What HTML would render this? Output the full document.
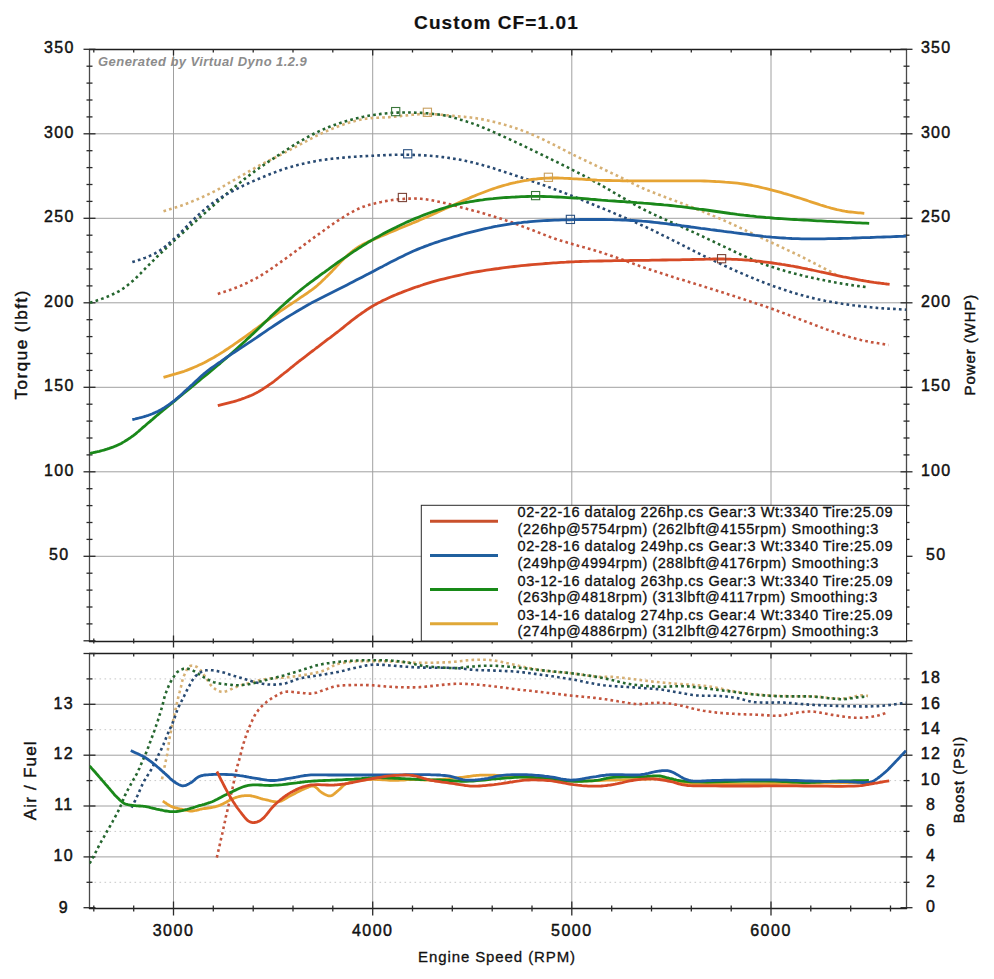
<!DOCTYPE html>
<html><head><meta charset="utf-8"><style>html,body{margin:0;padding:0;background:#fff;}svg{display:block;}</style></head>
<body><svg width="994" height="979" viewBox="0 0 994 979" font-family='"Liberation Sans", sans-serif'><line x1="173.5" y1="49.5" x2="173.5" y2="641.5" stroke="#a0a0a0" stroke-width="1"/>
<line x1="173.5" y1="653.5" x2="173.5" y2="908.5" stroke="#a0a0a0" stroke-width="1"/>
<line x1="372.7" y1="49.5" x2="372.7" y2="641.5" stroke="#a0a0a0" stroke-width="1"/>
<line x1="372.7" y1="653.5" x2="372.7" y2="908.5" stroke="#a0a0a0" stroke-width="1"/>
<line x1="571.8" y1="49.5" x2="571.8" y2="641.5" stroke="#a0a0a0" stroke-width="1"/>
<line x1="571.8" y1="653.5" x2="571.8" y2="908.5" stroke="#a0a0a0" stroke-width="1"/>
<line x1="771.0" y1="49.5" x2="771.0" y2="641.5" stroke="#a0a0a0" stroke-width="1"/>
<line x1="771.0" y1="653.5" x2="771.0" y2="908.5" stroke="#a0a0a0" stroke-width="1"/>
<line x1="89.5" y1="556.3" x2="906.5" y2="556.3" stroke="#a0a0a0" stroke-width="1"/>
<line x1="89.5" y1="471.8" x2="906.5" y2="471.8" stroke="#a0a0a0" stroke-width="1"/>
<line x1="89.5" y1="387.3" x2="906.5" y2="387.3" stroke="#a0a0a0" stroke-width="1"/>
<line x1="89.5" y1="302.8" x2="906.5" y2="302.8" stroke="#a0a0a0" stroke-width="1"/>
<line x1="89.5" y1="218.3" x2="906.5" y2="218.3" stroke="#a0a0a0" stroke-width="1"/>
<line x1="89.5" y1="133.8" x2="906.5" y2="133.8" stroke="#a0a0a0" stroke-width="1"/>
<line x1="94.5" y1="882.3" x2="906.5" y2="882.3" stroke="#c8c8c8" stroke-width="1" stroke-dasharray="1.6 3.4"/>
<line x1="89.5" y1="856.9" x2="906.5" y2="856.9" stroke="#a0a0a0" stroke-width="1"/>
<line x1="94.5" y1="831.4" x2="906.5" y2="831.4" stroke="#c8c8c8" stroke-width="1" stroke-dasharray="1.6 3.4"/>
<line x1="89.5" y1="806.0" x2="906.5" y2="806.0" stroke="#a0a0a0" stroke-width="1"/>
<line x1="94.5" y1="780.6" x2="906.5" y2="780.6" stroke="#c8c8c8" stroke-width="1" stroke-dasharray="1.6 3.4"/>
<line x1="89.5" y1="755.2" x2="906.5" y2="755.2" stroke="#a0a0a0" stroke-width="1"/>
<line x1="94.5" y1="729.7" x2="906.5" y2="729.7" stroke="#c8c8c8" stroke-width="1" stroke-dasharray="1.6 3.4"/>
<line x1="89.5" y1="704.3" x2="906.5" y2="704.3" stroke="#a0a0a0" stroke-width="1"/>
<line x1="94.5" y1="678.9" x2="906.5" y2="678.9" stroke="#c8c8c8" stroke-width="1" stroke-dasharray="1.6 3.4"/>
<line x1="89.5" y1="48.9" x2="89.5" y2="642.1" stroke="#4a4a4a" stroke-width="1.3"/>
<line x1="906.5" y1="48.9" x2="906.5" y2="642.1" stroke="#4a4a4a" stroke-width="1.3"/>
<line x1="88.9" y1="49.5" x2="907.1" y2="49.5" stroke="#1e1e1e" stroke-width="1.3"/>
<line x1="88.9" y1="641.5" x2="907.1" y2="641.5" stroke="#1e1e1e" stroke-width="1.3"/>
<line x1="89.5" y1="652.9" x2="89.5" y2="909.1" stroke="#4a4a4a" stroke-width="1.3"/>
<line x1="906.5" y1="652.9" x2="906.5" y2="909.1" stroke="#4a4a4a" stroke-width="1.3"/>
<line x1="88.9" y1="653.5" x2="907.1" y2="653.5" stroke="#1e1e1e" stroke-width="1.3"/>
<line x1="88.9" y1="908.5" x2="907.1" y2="908.5" stroke="#1e1e1e" stroke-width="1.3"/>
<line x1="83.5" y1="640.8" x2="95.5" y2="640.8" stroke="#2a2a2a" stroke-width="1.3"/>
<line x1="900.5" y1="640.8" x2="912.5" y2="640.8" stroke="#2a2a2a" stroke-width="1.3"/>
<line x1="86.5" y1="623.9" x2="92.5" y2="623.9" stroke="#2a2a2a" stroke-width="1.3"/>
<line x1="903.5" y1="623.9" x2="909.5" y2="623.9" stroke="#2a2a2a" stroke-width="1.3"/>
<line x1="86.5" y1="607.0" x2="92.5" y2="607.0" stroke="#2a2a2a" stroke-width="1.3"/>
<line x1="903.5" y1="607.0" x2="909.5" y2="607.0" stroke="#2a2a2a" stroke-width="1.3"/>
<line x1="86.5" y1="590.1" x2="92.5" y2="590.1" stroke="#2a2a2a" stroke-width="1.3"/>
<line x1="903.5" y1="590.1" x2="909.5" y2="590.1" stroke="#2a2a2a" stroke-width="1.3"/>
<line x1="86.5" y1="573.2" x2="92.5" y2="573.2" stroke="#2a2a2a" stroke-width="1.3"/>
<line x1="903.5" y1="573.2" x2="909.5" y2="573.2" stroke="#2a2a2a" stroke-width="1.3"/>
<line x1="83.5" y1="556.3" x2="95.5" y2="556.3" stroke="#2a2a2a" stroke-width="1.3"/>
<line x1="900.5" y1="556.3" x2="912.5" y2="556.3" stroke="#2a2a2a" stroke-width="1.3"/>
<line x1="86.5" y1="539.4" x2="92.5" y2="539.4" stroke="#2a2a2a" stroke-width="1.3"/>
<line x1="903.5" y1="539.4" x2="909.5" y2="539.4" stroke="#2a2a2a" stroke-width="1.3"/>
<line x1="86.5" y1="522.5" x2="92.5" y2="522.5" stroke="#2a2a2a" stroke-width="1.3"/>
<line x1="903.5" y1="522.5" x2="909.5" y2="522.5" stroke="#2a2a2a" stroke-width="1.3"/>
<line x1="86.5" y1="505.6" x2="92.5" y2="505.6" stroke="#2a2a2a" stroke-width="1.3"/>
<line x1="903.5" y1="505.6" x2="909.5" y2="505.6" stroke="#2a2a2a" stroke-width="1.3"/>
<line x1="86.5" y1="488.7" x2="92.5" y2="488.7" stroke="#2a2a2a" stroke-width="1.3"/>
<line x1="903.5" y1="488.7" x2="909.5" y2="488.7" stroke="#2a2a2a" stroke-width="1.3"/>
<line x1="83.5" y1="471.8" x2="95.5" y2="471.8" stroke="#2a2a2a" stroke-width="1.3"/>
<line x1="900.5" y1="471.8" x2="912.5" y2="471.8" stroke="#2a2a2a" stroke-width="1.3"/>
<line x1="86.5" y1="454.9" x2="92.5" y2="454.9" stroke="#2a2a2a" stroke-width="1.3"/>
<line x1="903.5" y1="454.9" x2="909.5" y2="454.9" stroke="#2a2a2a" stroke-width="1.3"/>
<line x1="86.5" y1="438.0" x2="92.5" y2="438.0" stroke="#2a2a2a" stroke-width="1.3"/>
<line x1="903.5" y1="438.0" x2="909.5" y2="438.0" stroke="#2a2a2a" stroke-width="1.3"/>
<line x1="86.5" y1="421.1" x2="92.5" y2="421.1" stroke="#2a2a2a" stroke-width="1.3"/>
<line x1="903.5" y1="421.1" x2="909.5" y2="421.1" stroke="#2a2a2a" stroke-width="1.3"/>
<line x1="86.5" y1="404.2" x2="92.5" y2="404.2" stroke="#2a2a2a" stroke-width="1.3"/>
<line x1="903.5" y1="404.2" x2="909.5" y2="404.2" stroke="#2a2a2a" stroke-width="1.3"/>
<line x1="83.5" y1="387.3" x2="95.5" y2="387.3" stroke="#2a2a2a" stroke-width="1.3"/>
<line x1="900.5" y1="387.3" x2="912.5" y2="387.3" stroke="#2a2a2a" stroke-width="1.3"/>
<line x1="86.5" y1="370.4" x2="92.5" y2="370.4" stroke="#2a2a2a" stroke-width="1.3"/>
<line x1="903.5" y1="370.4" x2="909.5" y2="370.4" stroke="#2a2a2a" stroke-width="1.3"/>
<line x1="86.5" y1="353.5" x2="92.5" y2="353.5" stroke="#2a2a2a" stroke-width="1.3"/>
<line x1="903.5" y1="353.5" x2="909.5" y2="353.5" stroke="#2a2a2a" stroke-width="1.3"/>
<line x1="86.5" y1="336.6" x2="92.5" y2="336.6" stroke="#2a2a2a" stroke-width="1.3"/>
<line x1="903.5" y1="336.6" x2="909.5" y2="336.6" stroke="#2a2a2a" stroke-width="1.3"/>
<line x1="86.5" y1="319.7" x2="92.5" y2="319.7" stroke="#2a2a2a" stroke-width="1.3"/>
<line x1="903.5" y1="319.7" x2="909.5" y2="319.7" stroke="#2a2a2a" stroke-width="1.3"/>
<line x1="83.5" y1="302.8" x2="95.5" y2="302.8" stroke="#2a2a2a" stroke-width="1.3"/>
<line x1="900.5" y1="302.8" x2="912.5" y2="302.8" stroke="#2a2a2a" stroke-width="1.3"/>
<line x1="86.5" y1="285.9" x2="92.5" y2="285.9" stroke="#2a2a2a" stroke-width="1.3"/>
<line x1="903.5" y1="285.9" x2="909.5" y2="285.9" stroke="#2a2a2a" stroke-width="1.3"/>
<line x1="86.5" y1="269.0" x2="92.5" y2="269.0" stroke="#2a2a2a" stroke-width="1.3"/>
<line x1="903.5" y1="269.0" x2="909.5" y2="269.0" stroke="#2a2a2a" stroke-width="1.3"/>
<line x1="86.5" y1="252.1" x2="92.5" y2="252.1" stroke="#2a2a2a" stroke-width="1.3"/>
<line x1="903.5" y1="252.1" x2="909.5" y2="252.1" stroke="#2a2a2a" stroke-width="1.3"/>
<line x1="86.5" y1="235.2" x2="92.5" y2="235.2" stroke="#2a2a2a" stroke-width="1.3"/>
<line x1="903.5" y1="235.2" x2="909.5" y2="235.2" stroke="#2a2a2a" stroke-width="1.3"/>
<line x1="83.5" y1="218.3" x2="95.5" y2="218.3" stroke="#2a2a2a" stroke-width="1.3"/>
<line x1="900.5" y1="218.3" x2="912.5" y2="218.3" stroke="#2a2a2a" stroke-width="1.3"/>
<line x1="86.5" y1="201.4" x2="92.5" y2="201.4" stroke="#2a2a2a" stroke-width="1.3"/>
<line x1="903.5" y1="201.4" x2="909.5" y2="201.4" stroke="#2a2a2a" stroke-width="1.3"/>
<line x1="86.5" y1="184.5" x2="92.5" y2="184.5" stroke="#2a2a2a" stroke-width="1.3"/>
<line x1="903.5" y1="184.5" x2="909.5" y2="184.5" stroke="#2a2a2a" stroke-width="1.3"/>
<line x1="86.5" y1="167.6" x2="92.5" y2="167.6" stroke="#2a2a2a" stroke-width="1.3"/>
<line x1="903.5" y1="167.6" x2="909.5" y2="167.6" stroke="#2a2a2a" stroke-width="1.3"/>
<line x1="86.5" y1="150.7" x2="92.5" y2="150.7" stroke="#2a2a2a" stroke-width="1.3"/>
<line x1="903.5" y1="150.7" x2="909.5" y2="150.7" stroke="#2a2a2a" stroke-width="1.3"/>
<line x1="83.5" y1="133.8" x2="95.5" y2="133.8" stroke="#2a2a2a" stroke-width="1.3"/>
<line x1="900.5" y1="133.8" x2="912.5" y2="133.8" stroke="#2a2a2a" stroke-width="1.3"/>
<line x1="86.5" y1="116.9" x2="92.5" y2="116.9" stroke="#2a2a2a" stroke-width="1.3"/>
<line x1="903.5" y1="116.9" x2="909.5" y2="116.9" stroke="#2a2a2a" stroke-width="1.3"/>
<line x1="86.5" y1="100.0" x2="92.5" y2="100.0" stroke="#2a2a2a" stroke-width="1.3"/>
<line x1="903.5" y1="100.0" x2="909.5" y2="100.0" stroke="#2a2a2a" stroke-width="1.3"/>
<line x1="86.5" y1="83.1" x2="92.5" y2="83.1" stroke="#2a2a2a" stroke-width="1.3"/>
<line x1="903.5" y1="83.1" x2="909.5" y2="83.1" stroke="#2a2a2a" stroke-width="1.3"/>
<line x1="86.5" y1="66.2" x2="92.5" y2="66.2" stroke="#2a2a2a" stroke-width="1.3"/>
<line x1="903.5" y1="66.2" x2="909.5" y2="66.2" stroke="#2a2a2a" stroke-width="1.3"/>
<line x1="83.5" y1="49.3" x2="95.5" y2="49.3" stroke="#2a2a2a" stroke-width="1.3"/>
<line x1="900.5" y1="49.3" x2="912.5" y2="49.3" stroke="#2a2a2a" stroke-width="1.3"/>
<line x1="93.8" y1="49.5" x2="93.8" y2="52.5" stroke="#2a2a2a" stroke-width="1.3"/>
<line x1="93.8" y1="638.5" x2="93.8" y2="643.5" stroke="#2a2a2a" stroke-width="1.3"/>
<line x1="93.8" y1="653.5" x2="93.8" y2="656.5" stroke="#2a2a2a" stroke-width="1.3"/>
<line x1="93.8" y1="905.5" x2="93.8" y2="911.5" stroke="#2a2a2a" stroke-width="1.3"/>
<line x1="133.7" y1="49.5" x2="133.7" y2="52.5" stroke="#2a2a2a" stroke-width="1.3"/>
<line x1="133.7" y1="638.5" x2="133.7" y2="643.5" stroke="#2a2a2a" stroke-width="1.3"/>
<line x1="133.7" y1="653.5" x2="133.7" y2="656.5" stroke="#2a2a2a" stroke-width="1.3"/>
<line x1="133.7" y1="905.5" x2="133.7" y2="911.5" stroke="#2a2a2a" stroke-width="1.3"/>
<line x1="173.5" y1="49.5" x2="173.5" y2="55.5" stroke="#2a2a2a" stroke-width="1.3"/>
<line x1="173.5" y1="635.5" x2="173.5" y2="647.5" stroke="#2a2a2a" stroke-width="1.3"/>
<line x1="173.5" y1="653.5" x2="173.5" y2="658.5" stroke="#2a2a2a" stroke-width="1.3"/>
<line x1="173.5" y1="901.5" x2="173.5" y2="915.5" stroke="#2a2a2a" stroke-width="1.3"/>
<line x1="213.3" y1="49.5" x2="213.3" y2="52.5" stroke="#2a2a2a" stroke-width="1.3"/>
<line x1="213.3" y1="638.5" x2="213.3" y2="643.5" stroke="#2a2a2a" stroke-width="1.3"/>
<line x1="213.3" y1="653.5" x2="213.3" y2="656.5" stroke="#2a2a2a" stroke-width="1.3"/>
<line x1="213.3" y1="905.5" x2="213.3" y2="911.5" stroke="#2a2a2a" stroke-width="1.3"/>
<line x1="253.2" y1="49.5" x2="253.2" y2="52.5" stroke="#2a2a2a" stroke-width="1.3"/>
<line x1="253.2" y1="638.5" x2="253.2" y2="643.5" stroke="#2a2a2a" stroke-width="1.3"/>
<line x1="253.2" y1="653.5" x2="253.2" y2="656.5" stroke="#2a2a2a" stroke-width="1.3"/>
<line x1="253.2" y1="905.5" x2="253.2" y2="911.5" stroke="#2a2a2a" stroke-width="1.3"/>
<line x1="293.0" y1="49.5" x2="293.0" y2="52.5" stroke="#2a2a2a" stroke-width="1.3"/>
<line x1="293.0" y1="638.5" x2="293.0" y2="643.5" stroke="#2a2a2a" stroke-width="1.3"/>
<line x1="293.0" y1="653.5" x2="293.0" y2="656.5" stroke="#2a2a2a" stroke-width="1.3"/>
<line x1="293.0" y1="905.5" x2="293.0" y2="911.5" stroke="#2a2a2a" stroke-width="1.3"/>
<line x1="332.8" y1="49.5" x2="332.8" y2="52.5" stroke="#2a2a2a" stroke-width="1.3"/>
<line x1="332.8" y1="638.5" x2="332.8" y2="643.5" stroke="#2a2a2a" stroke-width="1.3"/>
<line x1="332.8" y1="653.5" x2="332.8" y2="656.5" stroke="#2a2a2a" stroke-width="1.3"/>
<line x1="332.8" y1="905.5" x2="332.8" y2="911.5" stroke="#2a2a2a" stroke-width="1.3"/>
<line x1="372.7" y1="49.5" x2="372.7" y2="55.5" stroke="#2a2a2a" stroke-width="1.3"/>
<line x1="372.7" y1="635.5" x2="372.7" y2="647.5" stroke="#2a2a2a" stroke-width="1.3"/>
<line x1="372.7" y1="653.5" x2="372.7" y2="658.5" stroke="#2a2a2a" stroke-width="1.3"/>
<line x1="372.7" y1="901.5" x2="372.7" y2="915.5" stroke="#2a2a2a" stroke-width="1.3"/>
<line x1="412.5" y1="49.5" x2="412.5" y2="52.5" stroke="#2a2a2a" stroke-width="1.3"/>
<line x1="412.5" y1="638.5" x2="412.5" y2="643.5" stroke="#2a2a2a" stroke-width="1.3"/>
<line x1="412.5" y1="653.5" x2="412.5" y2="656.5" stroke="#2a2a2a" stroke-width="1.3"/>
<line x1="412.5" y1="905.5" x2="412.5" y2="911.5" stroke="#2a2a2a" stroke-width="1.3"/>
<line x1="452.3" y1="49.5" x2="452.3" y2="52.5" stroke="#2a2a2a" stroke-width="1.3"/>
<line x1="452.3" y1="638.5" x2="452.3" y2="643.5" stroke="#2a2a2a" stroke-width="1.3"/>
<line x1="452.3" y1="653.5" x2="452.3" y2="656.5" stroke="#2a2a2a" stroke-width="1.3"/>
<line x1="452.3" y1="905.5" x2="452.3" y2="911.5" stroke="#2a2a2a" stroke-width="1.3"/>
<line x1="492.2" y1="49.5" x2="492.2" y2="52.5" stroke="#2a2a2a" stroke-width="1.3"/>
<line x1="492.2" y1="638.5" x2="492.2" y2="643.5" stroke="#2a2a2a" stroke-width="1.3"/>
<line x1="492.2" y1="653.5" x2="492.2" y2="656.5" stroke="#2a2a2a" stroke-width="1.3"/>
<line x1="492.2" y1="905.5" x2="492.2" y2="911.5" stroke="#2a2a2a" stroke-width="1.3"/>
<line x1="532.0" y1="49.5" x2="532.0" y2="52.5" stroke="#2a2a2a" stroke-width="1.3"/>
<line x1="532.0" y1="638.5" x2="532.0" y2="643.5" stroke="#2a2a2a" stroke-width="1.3"/>
<line x1="532.0" y1="653.5" x2="532.0" y2="656.5" stroke="#2a2a2a" stroke-width="1.3"/>
<line x1="532.0" y1="905.5" x2="532.0" y2="911.5" stroke="#2a2a2a" stroke-width="1.3"/>
<line x1="571.8" y1="49.5" x2="571.8" y2="55.5" stroke="#2a2a2a" stroke-width="1.3"/>
<line x1="571.8" y1="635.5" x2="571.8" y2="647.5" stroke="#2a2a2a" stroke-width="1.3"/>
<line x1="571.8" y1="653.5" x2="571.8" y2="658.5" stroke="#2a2a2a" stroke-width="1.3"/>
<line x1="571.8" y1="901.5" x2="571.8" y2="915.5" stroke="#2a2a2a" stroke-width="1.3"/>
<line x1="611.7" y1="49.5" x2="611.7" y2="52.5" stroke="#2a2a2a" stroke-width="1.3"/>
<line x1="611.7" y1="638.5" x2="611.7" y2="643.5" stroke="#2a2a2a" stroke-width="1.3"/>
<line x1="611.7" y1="653.5" x2="611.7" y2="656.5" stroke="#2a2a2a" stroke-width="1.3"/>
<line x1="611.7" y1="905.5" x2="611.7" y2="911.5" stroke="#2a2a2a" stroke-width="1.3"/>
<line x1="651.5" y1="49.5" x2="651.5" y2="52.5" stroke="#2a2a2a" stroke-width="1.3"/>
<line x1="651.5" y1="638.5" x2="651.5" y2="643.5" stroke="#2a2a2a" stroke-width="1.3"/>
<line x1="651.5" y1="653.5" x2="651.5" y2="656.5" stroke="#2a2a2a" stroke-width="1.3"/>
<line x1="651.5" y1="905.5" x2="651.5" y2="911.5" stroke="#2a2a2a" stroke-width="1.3"/>
<line x1="691.3" y1="49.5" x2="691.3" y2="52.5" stroke="#2a2a2a" stroke-width="1.3"/>
<line x1="691.3" y1="638.5" x2="691.3" y2="643.5" stroke="#2a2a2a" stroke-width="1.3"/>
<line x1="691.3" y1="653.5" x2="691.3" y2="656.5" stroke="#2a2a2a" stroke-width="1.3"/>
<line x1="691.3" y1="905.5" x2="691.3" y2="911.5" stroke="#2a2a2a" stroke-width="1.3"/>
<line x1="731.2" y1="49.5" x2="731.2" y2="52.5" stroke="#2a2a2a" stroke-width="1.3"/>
<line x1="731.2" y1="638.5" x2="731.2" y2="643.5" stroke="#2a2a2a" stroke-width="1.3"/>
<line x1="731.2" y1="653.5" x2="731.2" y2="656.5" stroke="#2a2a2a" stroke-width="1.3"/>
<line x1="731.2" y1="905.5" x2="731.2" y2="911.5" stroke="#2a2a2a" stroke-width="1.3"/>
<line x1="771.0" y1="49.5" x2="771.0" y2="55.5" stroke="#2a2a2a" stroke-width="1.3"/>
<line x1="771.0" y1="635.5" x2="771.0" y2="647.5" stroke="#2a2a2a" stroke-width="1.3"/>
<line x1="771.0" y1="653.5" x2="771.0" y2="658.5" stroke="#2a2a2a" stroke-width="1.3"/>
<line x1="771.0" y1="901.5" x2="771.0" y2="915.5" stroke="#2a2a2a" stroke-width="1.3"/>
<line x1="810.8" y1="49.5" x2="810.8" y2="52.5" stroke="#2a2a2a" stroke-width="1.3"/>
<line x1="810.8" y1="638.5" x2="810.8" y2="643.5" stroke="#2a2a2a" stroke-width="1.3"/>
<line x1="810.8" y1="653.5" x2="810.8" y2="656.5" stroke="#2a2a2a" stroke-width="1.3"/>
<line x1="810.8" y1="905.5" x2="810.8" y2="911.5" stroke="#2a2a2a" stroke-width="1.3"/>
<line x1="850.7" y1="49.5" x2="850.7" y2="52.5" stroke="#2a2a2a" stroke-width="1.3"/>
<line x1="850.7" y1="638.5" x2="850.7" y2="643.5" stroke="#2a2a2a" stroke-width="1.3"/>
<line x1="850.7" y1="653.5" x2="850.7" y2="656.5" stroke="#2a2a2a" stroke-width="1.3"/>
<line x1="850.7" y1="905.5" x2="850.7" y2="911.5" stroke="#2a2a2a" stroke-width="1.3"/>
<line x1="890.5" y1="49.5" x2="890.5" y2="52.5" stroke="#2a2a2a" stroke-width="1.3"/>
<line x1="890.5" y1="638.5" x2="890.5" y2="643.5" stroke="#2a2a2a" stroke-width="1.3"/>
<line x1="890.5" y1="653.5" x2="890.5" y2="656.5" stroke="#2a2a2a" stroke-width="1.3"/>
<line x1="890.5" y1="905.5" x2="890.5" y2="911.5" stroke="#2a2a2a" stroke-width="1.3"/>
<line x1="83.5" y1="907.7" x2="95.5" y2="907.7" stroke="#2a2a2a" stroke-width="1.3"/>
<line x1="900.5" y1="907.7" x2="912.5" y2="907.7" stroke="#2a2a2a" stroke-width="1.3"/>
<line x1="86.5" y1="882.3" x2="92.5" y2="882.3" stroke="#2a2a2a" stroke-width="1.3"/>
<line x1="903.5" y1="882.3" x2="909.5" y2="882.3" stroke="#2a2a2a" stroke-width="1.3"/>
<line x1="83.5" y1="856.9" x2="95.5" y2="856.9" stroke="#2a2a2a" stroke-width="1.3"/>
<line x1="900.5" y1="856.9" x2="912.5" y2="856.9" stroke="#2a2a2a" stroke-width="1.3"/>
<line x1="86.5" y1="831.4" x2="92.5" y2="831.4" stroke="#2a2a2a" stroke-width="1.3"/>
<line x1="903.5" y1="831.4" x2="909.5" y2="831.4" stroke="#2a2a2a" stroke-width="1.3"/>
<line x1="83.5" y1="806.0" x2="95.5" y2="806.0" stroke="#2a2a2a" stroke-width="1.3"/>
<line x1="900.5" y1="806.0" x2="912.5" y2="806.0" stroke="#2a2a2a" stroke-width="1.3"/>
<line x1="86.5" y1="780.6" x2="92.5" y2="780.6" stroke="#2a2a2a" stroke-width="1.3"/>
<line x1="903.5" y1="780.6" x2="909.5" y2="780.6" stroke="#2a2a2a" stroke-width="1.3"/>
<line x1="83.5" y1="755.2" x2="95.5" y2="755.2" stroke="#2a2a2a" stroke-width="1.3"/>
<line x1="900.5" y1="755.2" x2="912.5" y2="755.2" stroke="#2a2a2a" stroke-width="1.3"/>
<line x1="86.5" y1="729.7" x2="92.5" y2="729.7" stroke="#2a2a2a" stroke-width="1.3"/>
<line x1="903.5" y1="729.7" x2="909.5" y2="729.7" stroke="#2a2a2a" stroke-width="1.3"/>
<line x1="83.5" y1="704.3" x2="95.5" y2="704.3" stroke="#2a2a2a" stroke-width="1.3"/>
<line x1="900.5" y1="704.3" x2="912.5" y2="704.3" stroke="#2a2a2a" stroke-width="1.3"/>
<line x1="86.5" y1="678.9" x2="92.5" y2="678.9" stroke="#2a2a2a" stroke-width="1.3"/>
<line x1="903.5" y1="678.9" x2="909.5" y2="678.9" stroke="#2a2a2a" stroke-width="1.3"/>
<line x1="83.5" y1="653.5" x2="95.5" y2="653.5" stroke="#2a2a2a" stroke-width="1.3"/>
<line x1="900.5" y1="653.5" x2="912.5" y2="653.5" stroke="#2a2a2a" stroke-width="1.3"/>
<text x="496.5" y="29.2" font-size="19" text-anchor="middle" font-weight="bold" letter-spacing="1.1" fill="#111111" stroke="#111111" stroke-width="0.2" >Custom CF=1.01</text>
<text x="59.3" y="560.2" font-size="16" text-anchor="middle" font-weight="normal" letter-spacing="1.3" fill="#111111" stroke="#111111" stroke-width="0.45" >50</text>
<text x="936.2" y="560.2" font-size="16" text-anchor="middle" font-weight="normal" letter-spacing="1.3" fill="#111111" stroke="#111111" stroke-width="0.45" >50</text>
<text x="59.3" y="475.7" font-size="16" text-anchor="middle" font-weight="normal" letter-spacing="1.3" fill="#111111" stroke="#111111" stroke-width="0.45" >100</text>
<text x="936.2" y="475.7" font-size="16" text-anchor="middle" font-weight="normal" letter-spacing="1.3" fill="#111111" stroke="#111111" stroke-width="0.45" >100</text>
<text x="59.3" y="391.2" font-size="16" text-anchor="middle" font-weight="normal" letter-spacing="1.3" fill="#111111" stroke="#111111" stroke-width="0.45" >150</text>
<text x="936.2" y="391.2" font-size="16" text-anchor="middle" font-weight="normal" letter-spacing="1.3" fill="#111111" stroke="#111111" stroke-width="0.45" >150</text>
<text x="59.3" y="306.7" font-size="16" text-anchor="middle" font-weight="normal" letter-spacing="1.3" fill="#111111" stroke="#111111" stroke-width="0.45" >200</text>
<text x="936.2" y="306.7" font-size="16" text-anchor="middle" font-weight="normal" letter-spacing="1.3" fill="#111111" stroke="#111111" stroke-width="0.45" >200</text>
<text x="59.3" y="222.2" font-size="16" text-anchor="middle" font-weight="normal" letter-spacing="1.3" fill="#111111" stroke="#111111" stroke-width="0.45" >250</text>
<text x="936.2" y="222.2" font-size="16" text-anchor="middle" font-weight="normal" letter-spacing="1.3" fill="#111111" stroke="#111111" stroke-width="0.45" >250</text>
<text x="59.3" y="137.7" font-size="16" text-anchor="middle" font-weight="normal" letter-spacing="1.3" fill="#111111" stroke="#111111" stroke-width="0.45" >300</text>
<text x="936.2" y="137.7" font-size="16" text-anchor="middle" font-weight="normal" letter-spacing="1.3" fill="#111111" stroke="#111111" stroke-width="0.45" >300</text>
<text x="59.3" y="53.2" font-size="16" text-anchor="middle" font-weight="normal" letter-spacing="1.3" fill="#111111" stroke="#111111" stroke-width="0.45" >350</text>
<text x="936.2" y="53.2" font-size="16" text-anchor="middle" font-weight="normal" letter-spacing="1.3" fill="#111111" stroke="#111111" stroke-width="0.45" >350</text>
<text x="63.8" y="912.7" font-size="16" text-anchor="middle" font-weight="normal" letter-spacing="1.3" fill="#111111" stroke="#111111" stroke-width="0.45" >9</text>
<text x="63.8" y="861.1" font-size="16" text-anchor="middle" font-weight="normal" letter-spacing="1.3" fill="#111111" stroke="#111111" stroke-width="0.45" >10</text>
<text x="63.8" y="810.2" font-size="16" text-anchor="middle" font-weight="normal" letter-spacing="1.3" fill="#111111" stroke="#111111" stroke-width="0.45" >11</text>
<text x="63.8" y="759.4" font-size="16" text-anchor="middle" font-weight="normal" letter-spacing="1.3" fill="#111111" stroke="#111111" stroke-width="0.45" >12</text>
<text x="63.8" y="708.5" font-size="16" text-anchor="middle" font-weight="normal" letter-spacing="1.3" fill="#111111" stroke="#111111" stroke-width="0.45" >13</text>
<text x="931.0" y="911.9" font-size="16" text-anchor="middle" font-weight="normal" letter-spacing="1.3" fill="#111111" stroke="#111111" stroke-width="0.45" >0</text>
<text x="931.0" y="886.5" font-size="16" text-anchor="middle" font-weight="normal" letter-spacing="1.3" fill="#111111" stroke="#111111" stroke-width="0.45" >2</text>
<text x="931.0" y="861.1" font-size="16" text-anchor="middle" font-weight="normal" letter-spacing="1.3" fill="#111111" stroke="#111111" stroke-width="0.45" >4</text>
<text x="931.0" y="835.6" font-size="16" text-anchor="middle" font-weight="normal" letter-spacing="1.3" fill="#111111" stroke="#111111" stroke-width="0.45" >6</text>
<text x="931.0" y="810.2" font-size="16" text-anchor="middle" font-weight="normal" letter-spacing="1.3" fill="#111111" stroke="#111111" stroke-width="0.45" >8</text>
<text x="931.0" y="784.8" font-size="16" text-anchor="middle" font-weight="normal" letter-spacing="1.3" fill="#111111" stroke="#111111" stroke-width="0.45" >10</text>
<text x="931.0" y="759.4" font-size="16" text-anchor="middle" font-weight="normal" letter-spacing="1.3" fill="#111111" stroke="#111111" stroke-width="0.45" >12</text>
<text x="931.0" y="733.9" font-size="16" text-anchor="middle" font-weight="normal" letter-spacing="1.3" fill="#111111" stroke="#111111" stroke-width="0.45" >14</text>
<text x="931.0" y="708.5" font-size="16" text-anchor="middle" font-weight="normal" letter-spacing="1.3" fill="#111111" stroke="#111111" stroke-width="0.45" >16</text>
<text x="931.0" y="683.1" font-size="16" text-anchor="middle" font-weight="normal" letter-spacing="1.3" fill="#111111" stroke="#111111" stroke-width="0.45" >18</text>
<text x="173.5" y="935.5" font-size="16" text-anchor="middle" font-weight="normal" letter-spacing="1.5" fill="#111111" stroke="#111111" stroke-width="0.45" >3000</text>
<text x="372.7" y="935.5" font-size="16" text-anchor="middle" font-weight="normal" letter-spacing="1.5" fill="#111111" stroke="#111111" stroke-width="0.45" >4000</text>
<text x="571.8" y="935.5" font-size="16" text-anchor="middle" font-weight="normal" letter-spacing="1.5" fill="#111111" stroke="#111111" stroke-width="0.45" >5000</text>
<text x="771.0" y="935.5" font-size="16" text-anchor="middle" font-weight="normal" letter-spacing="1.5" fill="#111111" stroke="#111111" stroke-width="0.45" >6000</text>
<text x="497.0" y="962.2" font-size="15" text-anchor="middle" font-weight="normal" letter-spacing="0.9" fill="#111111" stroke="#111111" stroke-width="0.3" >Engine Speed (RPM)</text>
<text x="0.8" y="0.0" font-size="17" text-anchor="middle" font-weight="normal" letter-spacing="1.5" fill="#111111" stroke="#111111" stroke-width="0.45" transform="translate(26.5,345.1) rotate(-90)">Torque (lbft)</text>
<text x="0.5" y="0.0" font-size="15" text-anchor="middle" font-weight="normal" letter-spacing="0.9" fill="#111111" stroke="#111111" stroke-width="0.45" transform="translate(974.7,345.1) rotate(-90)">Power (WHP)</text>
<text x="0.6" y="0.0" font-size="17" text-anchor="middle" font-weight="normal" letter-spacing="1.2" fill="#111111" stroke="#111111" stroke-width="0.45" transform="translate(36.4,780.8) rotate(-90)">Air / Fuel</text>
<text x="0.5" y="0.0" font-size="15" text-anchor="middle" font-weight="normal" letter-spacing="1.0" fill="#111111" stroke="#111111" stroke-width="0.45" transform="translate(964.4,780) rotate(-90)">Boost (PSI)</text>
<text x="98.0" y="66.2" font-size="13" text-anchor="start" font-weight="bold" letter-spacing="0.45" fill="#8c8c8c" font-style="italic">Generated by Virtual Dyno 1.2.9</text>
<g clip-path="url(#clipTop)">
<path d="M163.5,211.3 L165.9,210.5 L168.2,209.8 L170.6,209.0 L172.9,208.3 L175.3,207.6 L177.6,206.8 L180.0,206.0 L182.4,205.2 L184.7,204.4 L187.1,203.5 L189.7,202.5 L192.2,201.4 L194.8,200.4 L197.4,199.3 L200.0,198.2 L202.6,197.0 L205.2,195.8 L207.7,194.6 L210.3,193.4 L212.8,192.1 L215.2,190.9 L217.6,189.6 L220.0,188.3 L222.4,186.9 L224.7,185.5 L227.1,184.1 L229.4,182.7 L231.8,181.4 L234.1,180.0 L236.4,178.7 L238.6,177.4 L240.9,176.1 L243.1,174.8 L245.3,173.5 L247.5,172.2 L249.7,171.0 L251.9,169.7 L254.1,168.5 L256.3,167.2 L258.5,166.0 L260.8,164.8 L263.0,163.7 L265.3,162.5 L267.6,161.4 L269.9,160.2 L272.2,159.1 L274.4,158.0 L276.7,156.8 L278.9,155.7 L281.1,154.6 L283.2,153.5 L285.2,152.4 L287.2,151.3 L289.3,150.3 L291.2,149.2 L293.2,148.1 L295.2,147.1 L297.2,146.0 L299.2,144.9 L301.2,143.9 L303.1,142.9 L305.0,141.9 L306.9,140.8 L308.8,139.8 L310.7,138.8 L312.5,137.8 L314.4,136.8 L316.4,135.8 L318.3,134.9 L320.2,134.0 L322.2,133.1 L324.2,132.2 L326.2,131.3 L328.3,130.4 L330.3,129.5 L332.3,128.7 L334.4,127.9 L336.4,127.1 L338.4,126.3 L340.4,125.6 L342.2,124.9 L344.1,124.3 L345.9,123.7 L347.8,123.1 L349.6,122.5 L351.4,122.0 L353.2,121.5 L355.0,121.0 L356.8,120.6 L358.5,120.2 L360.0,119.8 L361.4,119.5 L362.8,119.3 L364.2,119.0 L365.6,118.8 L367.0,118.6 L368.4,118.5 L369.8,118.3 L371.1,118.1 L372.4,118.0 L373.6,117.9 L374.8,117.8 L375.9,117.7 L377.1,117.7 L378.2,117.7 L379.3,117.6 L380.5,117.6 L381.6,117.6 L382.7,117.5 L383.8,117.5 L384.9,117.4 L386.0,117.3 L387.2,117.2 L388.3,117.2 L389.4,117.1 L390.5,117.0 L391.6,116.9 L392.7,116.8 L393.8,116.7 L394.9,116.6 L395.9,116.5 L397.0,116.4 L398.1,116.3 L399.2,116.2 L400.3,116.1 L401.4,115.9 L402.4,115.8 L403.5,115.7 L404.6,115.6 L405.7,115.5 L406.8,115.4 L407.8,115.3 L408.9,115.1 L410.0,115.0 L411.1,114.9 L412.1,114.8 L413.2,114.7 L414.3,114.6 L415.4,114.6 L416.5,114.5 L417.6,114.4 L418.7,114.3 L419.9,114.3 L421.0,114.2 L422.2,114.2 L423.3,114.1 L424.5,114.1 L425.6,114.1 L426.8,114.1 L427.9,114.0 L429.1,114.1 L430.3,114.1 L431.5,114.1 L432.7,114.2 L433.9,114.2 L435.0,114.3 L436.2,114.4 L437.4,114.4 L438.6,114.5 L439.7,114.6 L440.8,114.7 L441.9,114.8 L443.1,114.9 L444.2,115.0 L445.3,115.1 L446.4,115.2 L447.4,115.3 L448.5,115.5 L449.6,115.6 L450.6,115.7 L451.6,115.8 L452.5,115.9 L453.4,115.9 L454.3,116.0 L455.2,116.1 L456.1,116.2 L457.0,116.3 L457.9,116.4 L458.8,116.4 L459.6,116.5 L460.5,116.6 L461.3,116.7 L462.2,116.7 L463.0,116.8 L463.8,116.8 L464.7,116.9 L465.5,117.0 L466.4,117.0 L467.3,117.1 L468.2,117.2 L469.5,117.4 L470.8,117.5 L472.2,117.7 L473.6,117.9 L475.0,118.1 L476.4,118.3 L477.9,118.6 L479.4,118.8 L481.0,119.1 L482.6,119.4 L484.6,119.8 L486.7,120.2 L488.8,120.7 L491.0,121.2 L493.3,121.7 L495.6,122.2 L497.8,122.8 L500.1,123.4 L502.4,124.0 L504.7,124.7 L507.2,125.4 L509.7,126.2 L512.2,127.0 L514.8,127.9 L517.3,128.7 L519.8,129.6 L522.4,130.6 L524.9,131.5 L527.4,132.5 L529.8,133.5 L532.2,134.5 L534.6,135.5 L536.9,136.6 L539.3,137.6 L541.6,138.7 L543.9,139.8 L546.2,141.0 L548.5,142.1 L550.7,143.2 L553.0,144.3 L555.1,145.3 L557.2,146.4 L559.2,147.5 L561.3,148.5 L563.3,149.6 L565.3,150.6 L567.3,151.7 L569.4,152.8 L571.5,153.8 L573.6,154.9 L575.9,156.0 L578.2,157.1 L580.5,158.3 L582.9,159.4 L585.3,160.5 L587.7,161.6 L590.0,162.8 L592.4,163.9 L594.8,165.0 L597.2,166.2 L599.7,167.4 L602.2,168.5 L604.7,169.8 L607.2,171.0 L609.7,172.2 L612.2,173.4 L614.7,174.6 L617.2,175.7 L619.5,176.9 L621.9,178.0 L623.8,179.0 L625.8,180.0 L627.7,180.9 L629.5,181.8 L631.4,182.8 L633.2,183.7 L635.0,184.6 L636.8,185.5 L638.7,186.3 L640.5,187.2 L642.3,188.0 L644.0,188.7 L645.8,189.5 L647.5,190.2 L649.2,190.9 L651.0,191.6 L652.8,192.3 L654.6,193.0 L656.4,193.7 L658.2,194.5 L660.4,195.3 L662.6,196.2 L664.9,197.0 L667.1,197.8 L669.4,198.7 L671.7,199.6 L674.1,200.4 L676.4,201.3 L678.7,202.1 L681.0,203.0 L683.3,203.9 L685.6,204.8 L687.9,205.6 L690.2,206.5 L692.5,207.4 L694.7,208.3 L697.0,209.2 L699.3,210.1 L701.5,211.0 L703.7,211.9 L705.7,212.7 L707.6,213.5 L709.5,214.3 L711.4,215.1 L713.3,215.9 L715.2,216.6 L717.1,217.4 L719.0,218.3 L721.0,219.1 L722.9,219.9 L725.0,220.9 L727.1,221.8 L729.2,222.8 L731.3,223.7 L733.4,224.7 L735.5,225.7 L737.7,226.7 L739.8,227.7 L742.0,228.7 L744.2,229.7 L746.5,230.8 L748.9,232.0 L751.4,233.1 L753.8,234.3 L756.3,235.4 L758.7,236.6 L761.2,237.7 L763.6,238.9 L766.0,240.0 L768.3,241.1 L770.4,242.0 L772.5,243.0 L774.5,244.0 L776.5,244.9 L778.6,245.8 L780.6,246.8 L782.5,247.7 L784.5,248.6 L786.4,249.5 L788.3,250.4 L790.1,251.2 L791.7,252.0 L793.4,252.8 L795.1,253.6 L796.7,254.4 L798.3,255.1 L799.9,255.9 L801.5,256.7 L803.2,257.5 L804.8,258.3 L806.5,259.2 L808.1,260.0 L809.8,260.9 L811.5,261.7 L813.1,262.6 L814.8,263.5 L816.5,264.3 L818.1,265.2 L819.7,266.1 L821.3,266.9 L822.9,267.7 L824.3,268.5 L825.8,269.2 L827.3,270.0 L828.7,270.8 L830.2,271.5 L831.6,272.3 L833.1,273.1 L834.5,273.8 L836.0,274.6" fill="none" stroke="#d6b074" stroke-width="2.6" stroke-dasharray="2.7 3.15"/>
<path d="M90.0,302.8 L91.5,302.3 L93.1,301.8 L94.6,301.3 L96.2,300.8 L97.7,300.2 L99.3,299.7 L100.8,299.2 L102.3,298.6 L103.8,298.1 L105.3,297.5 L106.9,296.9 L108.4,296.2 L109.9,295.6 L111.4,294.9 L112.9,294.2 L114.4,293.5 L115.9,292.8 L117.4,292.0 L118.8,291.3 L120.2,290.4 L121.6,289.6 L123.0,288.7 L124.3,287.7 L125.6,286.7 L126.9,285.7 L128.2,284.7 L129.5,283.7 L130.8,282.6 L132.0,281.6 L133.3,280.5 L134.6,279.4 L135.8,278.2 L137.0,277.0 L138.2,275.8 L139.4,274.6 L140.6,273.4 L141.8,272.1 L142.9,270.9 L144.2,269.7 L145.4,268.4 L146.6,267.2 L147.9,265.9 L149.2,264.6 L150.5,263.3 L151.7,262.1 L153.0,260.8 L154.3,259.5 L155.7,258.1 L157.0,256.8 L158.4,255.5 L160.0,253.9 L161.7,252.4 L163.3,250.8 L165.0,249.2 L166.7,247.6 L168.4,246.0 L170.2,244.4 L172.0,242.8 L173.7,241.1 L175.5,239.4 L177.5,237.6 L179.5,235.8 L181.6,233.9 L183.7,232.0 L185.7,230.1 L187.8,228.2 L189.9,226.3 L192.0,224.4 L194.1,222.5 L196.2,220.7 L198.2,218.9 L200.1,217.1 L202.1,215.4 L204.1,213.7 L206.1,211.9 L208.0,210.2 L210.0,208.5 L211.9,206.8 L213.9,205.1 L215.8,203.4 L217.6,201.8 L219.4,200.2 L221.2,198.6 L223.0,197.0 L224.8,195.5 L226.5,193.9 L228.3,192.3 L230.2,190.8 L232.0,189.2 L233.9,187.6 L236.0,185.9 L238.0,184.2 L240.2,182.5 L242.3,180.8 L244.4,179.1 L246.6,177.4 L248.8,175.7 L251.0,174.0 L253.3,172.4 L255.5,170.7 L257.9,169.0 L260.3,167.3 L262.8,165.6 L265.3,163.9 L267.8,162.2 L270.3,160.5 L272.8,158.9 L275.3,157.3 L277.7,155.7 L280.1,154.1 L282.3,152.7 L284.4,151.3 L286.6,149.9 L288.7,148.5 L290.8,147.2 L292.8,145.8 L294.9,144.5 L297.0,143.2 L299.1,142.0 L301.2,140.8 L303.1,139.7 L305.0,138.6 L306.9,137.5 L308.8,136.5 L310.7,135.5 L312.5,134.5 L314.4,133.5 L316.4,132.6 L318.3,131.6 L320.2,130.7 L322.2,129.8 L324.2,129.0 L326.2,128.1 L328.2,127.3 L330.3,126.5 L332.3,125.8 L334.4,125.0 L336.4,124.3 L338.4,123.6 L340.4,122.9 L342.2,122.3 L344.1,121.7 L345.9,121.2 L347.7,120.7 L349.5,120.2 L351.3,119.7 L353.1,119.2 L354.9,118.7 L356.7,118.3 L358.5,117.9 L360.2,117.5 L361.8,117.1 L363.5,116.8 L365.1,116.4 L366.7,116.1 L368.3,115.8 L370.0,115.5 L371.7,115.2 L373.4,115.0 L375.1,114.7 L377.1,114.4 L379.1,114.2 L381.1,113.9 L383.1,113.7 L385.2,113.5 L387.3,113.3 L389.4,113.1 L391.5,112.9 L393.6,112.8 L395.7,112.7 L397.9,112.6 L400.2,112.5 L402.5,112.5 L404.8,112.5 L407.1,112.5 L409.4,112.5 L411.7,112.6 L413.9,112.6 L416.1,112.7 L418.2,112.8 L419.9,112.8 L421.6,112.9 L423.3,113.0 L424.9,113.2 L426.6,113.3 L428.2,113.4 L429.7,113.6 L431.2,113.7 L432.6,113.9 L434.0,114.0 L435.0,114.1 L435.9,114.2 L436.8,114.3 L437.6,114.4 L438.5,114.5 L439.3,114.6 L440.1,114.7 L440.9,114.9 L441.7,115.0 L442.4,115.1 L443.1,115.2 L443.7,115.3 L444.3,115.4 L444.9,115.5 L445.5,115.6 L446.1,115.7 L446.7,115.9 L447.3,116.0 L447.9,116.1 L448.5,116.2 L449.1,116.4 L449.6,116.5 L450.2,116.6 L450.8,116.8 L451.4,116.9 L452.0,117.1 L452.5,117.2 L453.1,117.4 L453.7,117.6 L454.2,117.7 L454.8,117.9 L455.4,118.1 L455.9,118.2 L456.4,118.4 L457.0,118.6 L457.5,118.7 L458.1,118.9 L458.6,119.1 L459.2,119.3 L459.8,119.5 L460.5,119.7 L461.2,119.9 L461.9,120.1 L462.6,120.3 L463.4,120.5 L464.2,120.7 L464.9,121.0 L465.8,121.2 L466.6,121.5 L467.5,121.8 L468.8,122.2 L470.1,122.6 L471.5,123.1 L472.9,123.6 L474.4,124.2 L475.9,124.7 L477.5,125.3 L479.0,125.9 L480.7,126.5 L482.3,127.2 L484.5,128.1 L486.7,129.0 L489.0,130.0 L491.4,131.0 L493.8,132.1 L496.2,133.2 L498.7,134.3 L501.2,135.5 L503.7,136.6 L506.2,137.8 L509.2,139.1 L512.1,140.5 L515.2,141.9 L518.2,143.4 L521.3,144.8 L524.4,146.3 L527.6,147.8 L530.7,149.3 L533.8,150.8 L536.9,152.3 L540.1,153.9 L543.2,155.4 L546.4,156.9 L549.6,158.5 L552.8,160.1 L556.0,161.6 L559.2,163.2 L562.3,164.8 L565.5,166.3 L568.6,167.9 L571.5,169.4 L574.4,170.9 L577.4,172.4 L580.3,173.9 L583.2,175.4 L586.0,176.9 L588.9,178.5 L591.7,180.0 L594.5,181.5 L597.2,183.0 L599.8,184.4 L602.3,185.9 L604.9,187.3 L607.4,188.8 L609.9,190.2 L612.4,191.7 L614.8,193.1 L617.2,194.5 L619.6,195.8 L621.9,197.2 L623.8,198.3 L625.8,199.4 L627.7,200.6 L629.6,201.6 L631.4,202.7 L633.2,203.8 L635.1,204.8 L636.9,205.9 L638.7,206.9 L640.5,207.8 L642.1,208.7 L643.8,209.5 L645.4,210.3 L647.0,211.1 L648.5,211.9 L650.1,212.6 L651.7,213.4 L653.3,214.1 L654.9,214.9 L656.6,215.7 L658.4,216.5 L660.1,217.3 L661.9,218.1 L663.7,218.9 L665.5,219.7 L667.4,220.5 L669.2,221.3 L671.0,222.1 L672.9,222.9 L674.7,223.7 L676.6,224.6 L678.6,225.4 L680.5,226.3 L682.4,227.2 L684.4,228.1 L686.3,229.0 L688.3,229.9 L690.3,230.8 L692.2,231.7 L694.2,232.6 L696.2,233.5 L698.2,234.4 L700.2,235.4 L702.3,236.3 L704.3,237.3 L706.3,238.2 L708.3,239.2 L710.3,240.1 L712.4,241.1 L714.3,242.0 L716.3,242.9 L718.2,243.8 L720.2,244.8 L722.1,245.7 L724.0,246.6 L725.9,247.5 L727.9,248.4 L729.8,249.3 L731.7,250.2 L733.5,251.1 L735.4,252.0 L737.1,252.8 L738.9,253.6 L740.7,254.5 L742.5,255.3 L744.2,256.1 L746.0,256.9 L747.8,257.7 L749.6,258.5 L751.4,259.2 L753.2,260.0 L755.1,260.8 L756.9,261.5 L758.8,262.2 L760.6,262.9 L762.5,263.7 L764.4,264.3 L766.3,265.0 L768.3,265.7 L770.2,266.4 L772.3,267.1 L774.4,267.7 L776.5,268.4 L778.6,269.1 L780.8,269.7 L783.0,270.3 L785.1,271.0 L787.3,271.6 L789.5,272.2 L791.8,272.8 L794.1,273.4 L796.4,274.0 L798.8,274.6 L801.1,275.2 L803.5,275.8 L805.9,276.4 L808.3,276.9 L810.7,277.5 L813.1,278.0 L815.5,278.5 L818.0,279.1 L820.5,279.6 L823.0,280.1 L825.5,280.6 L828.0,281.1 L830.5,281.6 L833.1,282.1 L835.6,282.5 L838.2,283.0 L840.7,283.4 L843.4,283.9 L846.2,284.3 L848.9,284.7 L851.7,285.1 L854.4,285.5 L857.2,285.9 L860.0,286.2 L862.8,286.6 L865.5,287.0 L868.3,287.4" fill="none" stroke="#25662f" stroke-width="2.6" stroke-dasharray="2.7 3.15"/>
<path d="M132.3,262.1 L133.6,261.7 L134.9,261.3 L136.2,260.9 L137.4,260.5 L138.7,260.1 L140.0,259.7 L141.3,259.3 L142.6,258.8 L143.8,258.3 L145.1,257.9 L146.5,257.3 L147.8,256.8 L149.1,256.2 L150.4,255.6 L151.8,255.0 L153.1,254.4 L154.4,253.8 L155.7,253.0 L157.1,252.3 L158.4,251.4 L160.1,250.4 L161.7,249.2 L163.3,248.0 L165.0,246.7 L166.6,245.3 L168.3,243.9 L170.0,242.5 L171.7,241.0 L173.3,239.5 L175.0,237.9 L177.0,236.2 L178.9,234.3 L180.8,232.3 L182.8,230.3 L184.7,228.3 L186.7,226.3 L188.7,224.2 L190.6,222.2 L192.7,220.3 L194.7,218.4 L196.7,216.6 L198.7,214.7 L200.7,212.9 L202.7,211.1 L204.7,209.4 L206.8,207.6 L208.9,205.9 L211.0,204.3 L213.1,202.7 L215.3,201.1 L217.5,199.6 L219.8,198.2 L222.1,196.8 L224.5,195.4 L226.9,194.1 L229.3,192.8 L231.7,191.5 L234.1,190.3 L236.5,189.0 L238.9,187.8 L241.4,186.6 L243.8,185.4 L246.3,184.3 L248.8,183.1 L251.3,182.0 L253.8,180.9 L256.3,179.8 L258.8,178.8 L261.2,177.7 L263.6,176.8 L265.7,175.9 L267.7,175.1 L269.8,174.2 L271.8,173.5 L273.8,172.7 L275.8,171.9 L277.8,171.2 L279.7,170.5 L281.7,169.8 L283.6,169.2 L285.4,168.6 L287.2,168.0 L288.9,167.5 L290.7,167.0 L292.4,166.5 L294.1,166.0 L295.9,165.6 L297.6,165.1 L299.4,164.7 L301.2,164.2 L303.0,163.8 L304.9,163.4 L306.7,162.9 L308.6,162.5 L310.5,162.1 L312.4,161.8 L314.3,161.4 L316.3,161.0 L318.2,160.7 L320.2,160.3 L322.4,160.0 L324.7,159.7 L326.9,159.4 L329.2,159.1 L331.5,158.8 L333.8,158.6 L336.1,158.3 L338.5,158.1 L340.9,157.8 L343.4,157.6 L346.2,157.4 L349.1,157.1 L352.1,156.9 L355.1,156.7 L358.1,156.5 L361.1,156.3 L364.2,156.2 L367.3,156.0 L370.3,155.8 L373.3,155.7 L376.5,155.6 L379.6,155.4 L382.8,155.3 L386.0,155.1 L389.1,155.0 L392.3,154.9 L395.5,154.8 L398.6,154.7 L401.7,154.7 L404.8,154.7 L407.6,154.7 L410.5,154.8 L413.3,154.9 L416.1,155.0 L418.9,155.1 L421.7,155.2 L424.5,155.4 L427.2,155.6 L429.9,155.8 L432.7,156.0 L435.3,156.2 L437.9,156.5 L440.4,156.8 L443.0,157.1 L445.5,157.4 L448.1,157.8 L450.6,158.2 L453.1,158.6 L455.6,159.0 L458.1,159.4 L460.4,159.8 L462.8,160.3 L465.1,160.8 L467.4,161.3 L469.7,161.8 L471.9,162.3 L474.2,162.9 L476.5,163.5 L478.8,164.1 L481.2,164.7 L483.6,165.4 L486.1,166.1 L488.6,166.8 L491.0,167.6 L493.5,168.3 L496.0,169.1 L498.5,170.0 L501.1,170.8 L503.6,171.6 L506.2,172.5 L509.2,173.4 L512.2,174.4 L515.2,175.4 L518.3,176.4 L521.4,177.4 L524.5,178.5 L527.6,179.5 L530.7,180.6 L533.8,181.7 L536.9,182.8 L540.1,183.9 L543.2,185.1 L546.4,186.2 L549.6,187.4 L552.8,188.6 L556.0,189.8 L559.2,191.0 L562.3,192.2 L565.5,193.4 L568.6,194.6 L571.5,195.7 L574.4,196.9 L577.3,198.0 L580.2,199.2 L583.0,200.3 L585.8,201.5 L588.7,202.7 L591.5,203.8 L594.4,205.0 L597.2,206.2 L600.1,207.4 L603.0,208.5 L605.9,209.7 L608.7,210.9 L611.6,212.1 L614.5,213.4 L617.4,214.6 L620.2,215.8 L623.1,217.0 L625.9,218.2 L628.7,219.4 L631.4,220.6 L634.2,221.8 L636.9,223.1 L639.6,224.3 L642.4,225.5 L645.1,226.7 L647.8,228.0 L650.4,229.2 L653.1,230.4 L655.6,231.7 L658.1,232.9 L660.5,234.1 L662.9,235.3 L665.3,236.5 L667.7,237.7 L670.2,238.9 L672.6,240.2 L675.1,241.4 L677.7,242.7 L680.5,244.2 L683.4,245.6 L686.3,247.1 L689.2,248.6 L692.2,250.1 L695.1,251.6 L698.1,253.1 L701.2,254.6 L704.2,256.1 L707.3,257.6 L710.5,259.2 L713.8,260.7 L717.1,262.3 L720.5,263.9 L723.8,265.4 L727.2,267.0 L730.6,268.5 L733.9,270.0 L737.3,271.5 L740.6,272.9 L743.8,274.3 L746.9,275.6 L750.0,276.9 L753.2,278.2 L756.3,279.5 L759.4,280.8 L762.5,282.0 L765.7,283.2 L768.8,284.4 L772.0,285.6 L775.2,286.7 L778.3,287.8 L781.5,288.9 L784.7,290.0 L787.8,291.0 L791.0,292.1 L794.2,293.0 L797.5,294.0 L800.7,294.9 L804.0,295.8 L807.4,296.7 L810.9,297.6 L814.3,298.4 L817.8,299.2 L821.4,299.9 L824.9,300.7 L828.4,301.3 L832.0,302.0 L835.5,302.6 L839.0,303.2 L842.5,303.8 L846.0,304.3 L849.5,304.8 L853.0,305.3 L856.5,305.7 L860.0,306.1 L863.5,306.5 L867.0,306.9 L870.4,307.2 L873.8,307.6 L877.1,307.9 L880.4,308.1 L883.6,308.4 L886.8,308.6 L890.0,308.8 L893.2,308.9 L896.4,309.1 L899.6,309.3 L902.8,309.5 L906.0,309.7" fill="none" stroke="#284a72" stroke-width="2.6" stroke-dasharray="2.7 3.15"/>
<path d="M217.8,293.9 L219.8,293.2 L221.8,292.5 L223.8,291.9 L225.9,291.2 L227.9,290.6 L229.9,289.9 L231.9,289.2 L233.9,288.5 L235.9,287.7 L237.9,286.9 L240.0,286.1 L242.0,285.2 L244.1,284.2 L246.2,283.3 L248.3,282.3 L250.3,281.3 L252.4,280.2 L254.4,279.2 L256.5,278.1 L258.5,276.9 L260.5,275.7 L262.6,274.5 L264.6,273.2 L266.7,271.8 L268.7,270.5 L270.7,269.1 L272.7,267.7 L274.7,266.3 L276.6,265.0 L278.5,263.6 L280.3,262.4 L282.0,261.1 L283.7,259.9 L285.4,258.7 L287.1,257.5 L288.8,256.2 L290.5,255.0 L292.2,253.7 L293.9,252.5 L295.6,251.2 L297.4,249.9 L299.2,248.5 L301.1,247.2 L302.9,245.8 L304.7,244.4 L306.6,243.1 L308.4,241.7 L310.3,240.3 L312.3,238.9 L314.2,237.4 L316.5,235.8 L318.8,234.1 L321.1,232.4 L323.5,230.7 L325.9,228.9 L328.3,227.2 L330.8,225.5 L333.2,223.8 L335.5,222.2 L337.9,220.6 L340.0,219.3 L342.1,218.0 L344.1,216.7 L346.2,215.4 L348.2,214.1 L350.3,212.9 L352.4,211.8 L354.4,210.7 L356.4,209.6 L358.5,208.7 L360.3,207.9 L362.1,207.2 L363.9,206.6 L365.7,205.9 L367.6,205.4 L369.4,204.8 L371.2,204.3 L373.0,203.9 L374.9,203.4 L376.9,202.9 L379.0,202.4 L381.2,202.0 L383.4,201.5 L385.6,201.1 L387.9,200.7 L390.1,200.3 L392.4,200.0 L394.7,199.7 L397.0,199.4 L399.2,199.2 L401.4,199.0 L403.6,198.9 L405.8,198.7 L408.0,198.6 L410.2,198.6 L412.4,198.5 L414.6,198.5 L416.8,198.6 L418.9,198.7 L421.1,198.8 L423.1,199.0 L425.1,199.2 L427.1,199.5 L429.1,199.8 L431.1,200.2 L433.1,200.6 L435.1,201.0 L437.0,201.4 L439.0,201.8 L441.0,202.2 L442.9,202.7 L444.9,203.1 L446.9,203.6 L448.8,204.1 L450.8,204.6 L452.7,205.1 L454.7,205.6 L456.7,206.1 L458.6,206.7 L460.6,207.2 L462.6,207.7 L464.7,208.2 L466.7,208.8 L468.7,209.3 L470.7,209.8 L472.8,210.4 L474.8,210.9 L476.9,211.5 L479.0,212.1 L481.2,212.7 L483.6,213.4 L486.0,214.1 L488.5,214.9 L491.0,215.6 L493.5,216.4 L496.1,217.2 L498.6,218.0 L501.2,218.8 L503.7,219.6 L506.2,220.5 L508.9,221.4 L511.6,222.3 L514.3,223.3 L517.0,224.3 L519.7,225.3 L522.4,226.4 L525.1,227.4 L527.7,228.4 L530.3,229.4 L532.9,230.3 L535.1,231.2 L537.4,232.0 L539.6,232.9 L541.7,233.8 L543.9,234.6 L546.0,235.5 L548.2,236.3 L550.3,237.1 L552.4,237.8 L554.5,238.6 L556.4,239.2 L558.3,239.8 L560.2,240.4 L562.1,241.0 L564.0,241.6 L565.9,242.1 L567.7,242.7 L569.7,243.2 L571.6,243.8 L573.6,244.4 L575.9,245.0 L578.1,245.7 L580.5,246.3 L582.8,247.0 L585.2,247.6 L587.6,248.3 L590.0,249.0 L592.4,249.7 L594.8,250.4 L597.2,251.2 L599.8,252.0 L602.4,252.8 L605.0,253.7 L607.6,254.5 L610.3,255.4 L612.9,256.3 L615.6,257.2 L618.2,258.2 L620.8,259.1 L623.4,260.0 L625.9,260.9 L628.3,261.8 L630.8,262.7 L633.2,263.6 L635.7,264.5 L638.1,265.4 L640.6,266.3 L643.0,267.2 L645.5,268.1 L648.0,268.9 L650.7,269.8 L653.3,270.7 L656.0,271.6 L658.7,272.4 L661.4,273.3 L664.1,274.2 L666.8,275.0 L669.6,275.9 L672.3,276.8 L675.2,277.7 L678.2,278.7 L681.4,279.6 L684.6,280.6 L687.8,281.6 L691.0,282.6 L694.2,283.6 L697.5,284.6 L700.7,285.6 L704.0,286.6 L707.3,287.7 L710.6,288.7 L713.9,289.7 L717.2,290.8 L720.6,291.9 L724.0,292.9 L727.3,294.0 L730.7,295.1 L734.0,296.1 L737.3,297.2 L740.6,298.3 L743.8,299.3 L746.9,300.4 L750.1,301.4 L753.2,302.4 L756.4,303.5 L759.5,304.5 L762.6,305.6 L765.7,306.6 L768.9,307.7 L772.0,308.8 L775.2,310.0 L778.4,311.2 L781.6,312.4 L784.8,313.6 L788.0,314.8 L791.2,316.0 L794.4,317.3 L797.6,318.5 L800.8,319.7 L804.0,320.9 L807.2,322.1 L810.4,323.3 L813.7,324.6 L816.9,325.8 L820.1,327.0 L823.3,328.2 L826.5,329.4 L829.7,330.5 L832.9,331.6 L836.0,332.7 L838.8,333.6 L841.6,334.5 L844.4,335.3 L847.1,336.2 L849.9,337.0 L852.6,337.7 L855.3,338.5 L858.0,339.2 L860.7,339.9 L863.4,340.5 L866.0,341.1 L868.5,341.6 L871.0,342.1 L873.5,342.5 L876.0,342.9 L878.5,343.3 L881.0,343.7 L883.5,344.1 L886.0,344.6 L888.5,345.0" fill="none" stroke="#c4553e" stroke-width="2.6" stroke-dasharray="2.7 3.15"/>
<path d="M163.5,377.4 L166.1,376.6 L168.6,375.9 L171.2,375.1 L173.8,374.4 L176.4,373.7 L179.0,372.9 L181.5,372.1 L184.1,371.3 L186.6,370.4 L189.1,369.4 L191.6,368.4 L194.2,367.3 L196.7,366.2 L199.1,365.1 L201.6,363.9 L204.1,362.7 L206.5,361.4 L209.0,360.1 L211.4,358.8 L213.8,357.5 L216.2,356.0 L218.6,354.6 L221.0,353.1 L223.4,351.6 L225.7,350.0 L228.1,348.5 L230.4,346.9 L232.8,345.3 L235.1,343.7 L237.4,342.1 L239.7,340.5 L241.9,339.0 L244.1,337.4 L246.3,335.8 L248.6,334.2 L250.8,332.6 L252.9,331.0 L255.1,329.4 L257.3,327.8 L259.5,326.2 L261.6,324.7 L263.6,323.2 L265.7,321.7 L267.8,320.2 L269.8,318.7 L271.9,317.2 L273.9,315.8 L276.0,314.3 L278.0,312.8 L280.0,311.4 L282.0,310.1 L283.9,308.8 L285.8,307.5 L287.8,306.2 L289.7,304.9 L291.6,303.7 L293.5,302.4 L295.4,301.1 L297.3,299.9 L299.1,298.6 L300.8,297.4 L302.5,296.3 L304.2,295.1 L305.9,294.0 L307.6,292.8 L309.2,291.7 L310.9,290.5 L312.5,289.3 L314.1,288.1 L315.7,286.8 L317.3,285.5 L318.8,284.1 L320.4,282.7 L321.9,281.3 L323.4,279.8 L324.9,278.4 L326.3,276.9 L327.8,275.4 L329.3,273.9 L330.8,272.4 L332.3,270.9 L333.8,269.3 L335.3,267.7 L336.8,266.1 L338.3,264.5 L339.8,262.9 L341.3,261.3 L342.9,259.7 L344.4,258.3 L345.9,256.9 L347.3,255.6 L348.7,254.4 L350.0,253.3 L351.4,252.1 L352.8,251.0 L354.2,250.0 L355.6,248.9 L357.0,247.9 L358.5,246.9 L360.0,246.0 L361.6,245.1 L363.1,244.2 L364.7,243.4 L366.3,242.7 L367.9,241.9 L369.6,241.2 L371.3,240.5 L373.0,239.7 L374.8,238.9 L376.6,238.1 L378.9,237.2 L381.2,236.1 L383.6,235.1 L386.1,234.1 L388.6,233.0 L391.1,232.0 L393.7,230.9 L396.2,229.9 L398.7,228.8 L401.2,227.8 L403.7,226.8 L406.2,225.7 L408.7,224.7 L411.2,223.7 L413.6,222.6 L416.1,221.6 L418.6,220.6 L421.0,219.5 L423.5,218.5 L425.9,217.5 L428.1,216.5 L430.4,215.5 L432.6,214.5 L434.7,213.5 L436.9,212.6 L439.1,211.6 L441.3,210.6 L443.5,209.6 L445.7,208.6 L448.0,207.5 L450.6,206.4 L453.2,205.2 L455.8,204.0 L458.5,202.8 L461.2,201.6 L463.9,200.4 L466.6,199.2 L469.3,198.1 L472.0,196.9 L474.6,195.9 L477.2,194.8 L479.8,193.8 L482.5,192.8 L485.1,191.8 L487.7,190.8 L490.3,189.8 L492.9,188.9 L495.5,188.0 L498.1,187.2 L500.7,186.4 L503.1,185.7 L505.5,185.0 L507.9,184.4 L510.2,183.7 L512.6,183.1 L515.0,182.6 L517.4,182.0 L519.7,181.6 L522.1,181.1 L524.5,180.6 L526.9,180.3 L529.3,179.9 L531.7,179.5 L534.1,179.2 L536.5,179.0 L538.9,178.7 L541.3,178.5 L543.7,178.3 L546.0,178.2 L548.4,178.1 L550.8,178.0 L553.1,178.0 L555.4,178.0 L557.8,178.0 L560.1,178.1 L562.4,178.2 L564.7,178.3 L567.1,178.4 L569.4,178.5 L571.8,178.7 L574.3,178.8 L576.8,178.9 L579.3,179.1 L581.8,179.2 L584.3,179.4 L586.8,179.6 L589.4,179.7 L591.9,179.9 L594.6,180.0 L597.2,180.2 L600.3,180.3 L603.3,180.4 L606.5,180.5 L609.6,180.5 L612.8,180.6 L616.0,180.7 L619.3,180.7 L622.6,180.8 L626.0,180.8 L629.4,180.9 L633.3,180.9 L637.4,180.9 L641.5,180.9 L645.7,180.9 L649.9,180.8 L654.1,180.8 L658.4,180.8 L662.6,180.8 L666.9,180.8 L671.0,180.8 L675.2,180.8 L679.4,180.8 L683.6,180.8 L687.8,180.8 L692.0,180.8 L696.2,180.9 L700.3,180.9 L704.4,181.0 L708.4,181.1 L712.2,181.3 L715.6,181.5 L718.8,181.6 L722.0,181.8 L725.2,182.1 L728.3,182.3 L731.4,182.6 L734.5,182.9 L737.5,183.2 L740.6,183.6 L743.6,184.0 L746.5,184.5 L749.4,185.0 L752.3,185.5 L755.1,186.1 L757.9,186.7 L760.7,187.3 L763.5,188.0 L766.4,188.7 L769.2,189.4 L772.0,190.1 L774.9,190.8 L777.8,191.6 L780.8,192.4 L783.7,193.3 L786.7,194.1 L789.6,195.0 L792.5,195.9 L795.4,196.8 L798.2,197.7 L801.0,198.5 L803.5,199.3 L806.0,200.1 L808.5,201.0 L810.9,201.8 L813.3,202.6 L815.7,203.4 L818.1,204.2 L820.5,205.0 L822.8,205.7 L825.1,206.4 L827.1,207.0 L829.1,207.5 L831.1,208.1 L833.1,208.6 L835.0,209.1 L836.9,209.6 L838.9,210.0 L840.8,210.4 L842.7,210.8 L844.7,211.2 L846.7,211.5 L848.6,211.8 L850.6,212.0 L852.5,212.2 L854.5,212.4 L856.4,212.6 L858.4,212.8 L860.4,212.9 L862.3,213.1 L864.3,213.3" fill="none" stroke="#e6a434" stroke-width="2.8" stroke-linejoin="round"/>
<path d="M90.0,453.4 L91.5,453.0 L93.1,452.7 L94.6,452.3 L96.2,452.0 L97.7,451.6 L99.3,451.3 L100.8,450.9 L102.3,450.5 L103.8,450.1 L105.3,449.6 L106.9,449.2 L108.4,448.7 L109.9,448.1 L111.4,447.6 L112.9,447.1 L114.4,446.5 L115.9,445.9 L117.3,445.2 L118.8,444.6 L120.2,443.9 L121.6,443.2 L122.9,442.4 L124.3,441.6 L125.6,440.8 L126.9,440.0 L128.2,439.1 L129.5,438.3 L130.8,437.4 L132.0,436.5 L133.3,435.6 L134.6,434.6 L135.9,433.6 L137.1,432.5 L138.4,431.5 L139.6,430.4 L140.9,429.3 L142.1,428.2 L143.3,427.2 L144.6,426.1 L145.9,425.0 L147.2,423.8 L148.5,422.7 L149.9,421.6 L151.2,420.4 L152.6,419.3 L153.9,418.1 L155.3,416.9 L156.6,415.8 L158.0,414.6 L159.4,413.4 L160.9,412.2 L162.4,410.9 L163.9,409.7 L165.5,408.4 L167.0,407.2 L168.5,405.9 L170.1,404.6 L171.7,403.3 L173.4,402.0 L175.0,400.6 L177.0,398.9 L179.1,397.2 L181.2,395.5 L183.3,393.7 L185.5,391.9 L187.7,390.1 L189.9,388.3 L192.2,386.4 L194.4,384.6 L196.7,382.7 L199.2,380.6 L201.7,378.5 L204.3,376.4 L206.9,374.3 L209.6,372.1 L212.2,369.9 L214.9,367.7 L217.5,365.5 L220.2,363.3 L222.8,361.0 L225.6,358.6 L228.3,356.2 L231.1,353.7 L233.9,351.3 L236.7,348.8 L239.4,346.3 L242.2,343.7 L245.0,341.2 L247.7,338.6 L250.5,336.1 L253.3,333.4 L256.2,330.7 L259.0,328.0 L261.9,325.2 L264.7,322.4 L267.6,319.7 L270.4,316.9 L273.2,314.3 L275.9,311.7 L278.6,309.2 L281.0,307.0 L283.3,305.0 L285.6,302.9 L287.8,300.9 L290.1,298.9 L292.3,297.0 L294.5,295.0 L296.8,293.2 L299.0,291.3 L301.1,289.6 L303.1,288.0 L305.0,286.5 L306.9,285.0 L308.8,283.6 L310.7,282.2 L312.6,280.8 L314.5,279.4 L316.4,278.0 L318.3,276.6 L320.2,275.2 L322.2,273.7 L324.2,272.3 L326.2,270.8 L328.3,269.3 L330.3,267.8 L332.3,266.3 L334.4,264.9 L336.4,263.4 L338.4,262.0 L340.4,260.6 L342.2,259.3 L344.0,258.1 L345.9,256.8 L347.7,255.6 L349.5,254.3 L351.3,253.1 L353.1,251.9 L354.9,250.7 L356.7,249.6 L358.5,248.4 L360.3,247.3 L362.1,246.1 L363.8,245.0 L365.6,244.0 L367.3,242.9 L369.1,241.8 L370.9,240.7 L372.8,239.6 L374.7,238.5 L376.6,237.4 L378.9,236.2 L381.2,234.9 L383.6,233.6 L386.0,232.3 L388.5,231.0 L391.0,229.7 L393.5,228.4 L396.1,227.2 L398.6,225.9 L401.2,224.7 L404.0,223.4 L406.8,222.1 L409.7,220.9 L412.5,219.6 L415.4,218.4 L418.4,217.2 L421.3,216.0 L424.2,214.9 L427.1,213.8 L429.9,212.7 L432.5,211.8 L435.2,210.9 L437.8,210.0 L440.5,209.1 L443.1,208.3 L445.7,207.5 L448.3,206.7 L450.9,206.0 L453.5,205.3 L456.1,204.7 L458.5,204.1 L460.9,203.5 L463.3,203.0 L465.7,202.5 L468.1,202.1 L470.5,201.7 L472.9,201.3 L475.3,200.9 L477.7,200.5 L480.2,200.1 L482.7,199.8 L485.3,199.4 L487.8,199.1 L490.4,198.8 L493.0,198.6 L495.6,198.3 L498.2,198.1 L500.9,197.9 L503.5,197.7 L506.2,197.5 L509.2,197.3 L512.2,197.1 L515.2,197.0 L518.2,196.8 L521.3,196.7 L524.4,196.6 L527.5,196.5 L530.6,196.4 L533.8,196.4 L536.9,196.4 L540.2,196.4 L543.6,196.5 L547.0,196.6 L550.5,196.7 L553.9,196.8 L557.4,197.0 L560.8,197.2 L564.2,197.4 L567.7,197.6 L571.1,197.8 L574.5,198.0 L577.9,198.2 L581.3,198.4 L584.6,198.7 L588.0,199.0 L591.4,199.3 L594.8,199.5 L598.1,199.8 L601.5,200.1 L604.8,200.3 L608.0,200.6 L611.3,200.8 L614.5,201.0 L617.7,201.3 L620.9,201.5 L624.1,201.7 L627.3,202.0 L630.5,202.2 L633.7,202.4 L636.9,202.7 L640.3,202.9 L643.6,203.2 L646.9,203.4 L650.3,203.7 L653.6,204.0 L657.0,204.3 L660.4,204.5 L663.8,204.9 L667.1,205.2 L670.5,205.5 L674.1,205.9 L677.6,206.3 L681.2,206.7 L684.8,207.2 L688.4,207.6 L691.9,208.1 L695.5,208.6 L699.1,209.1 L702.7,209.5 L706.2,210.0 L709.7,210.5 L713.1,211.0 L716.6,211.5 L720.1,212.0 L723.5,212.5 L727.0,213.0 L730.4,213.5 L733.8,213.9 L737.2,214.4 L740.6,214.8 L743.8,215.2 L747.0,215.5 L750.1,215.9 L753.2,216.2 L756.4,216.6 L759.5,216.9 L762.6,217.2 L765.7,217.5 L768.9,217.7 L772.0,218.0 L775.2,218.3 L778.4,218.5 L781.6,218.7 L784.7,218.9 L787.9,219.1 L791.1,219.3 L794.3,219.5 L797.5,219.7 L800.8,219.8 L804.0,220.0 L807.3,220.2 L810.7,220.4 L814.0,220.6 L817.4,220.8 L820.8,220.9 L824.1,221.1 L827.5,221.3 L830.8,221.4 L834.2,221.6 L837.5,221.8 L840.7,221.9 L843.9,222.1 L847.1,222.3 L850.2,222.4 L853.4,222.6 L856.6,222.8 L859.7,222.9 L862.9,223.1 L866.0,223.2 L869.2,223.4" fill="none" stroke="#1a881a" stroke-width="2.8" stroke-linejoin="round"/>
<path d="M132.3,419.6 L133.6,419.3 L135.0,419.0 L136.3,418.6 L137.6,418.3 L139.0,418.0 L140.3,417.7 L141.6,417.4 L143.0,417.0 L144.3,416.6 L145.6,416.2 L147.0,415.7 L148.4,415.3 L149.8,414.8 L151.2,414.2 L152.5,413.7 L153.9,413.1 L155.3,412.5 L156.7,411.9 L158.1,411.2 L159.4,410.5 L160.9,409.7 L162.5,408.8 L164.0,407.9 L165.5,406.9 L167.0,405.9 L168.5,404.9 L170.0,403.8 L171.5,402.7 L173.0,401.6 L174.5,400.5 L176.0,399.2 L177.6,397.9 L179.1,396.6 L180.6,395.3 L182.1,393.9 L183.6,392.5 L185.1,391.1 L186.6,389.7 L188.1,388.4 L189.6,387.0 L191.1,385.6 L192.7,384.2 L194.2,382.7 L195.7,381.3 L197.2,379.9 L198.8,378.4 L200.3,377.0 L201.9,375.6 L203.5,374.2 L205.2,372.8 L207.0,371.4 L208.9,369.9 L210.8,368.5 L212.7,367.1 L214.6,365.8 L216.6,364.4 L218.6,363.0 L220.7,361.6 L222.7,360.1 L224.8,358.7 L227.2,357.0 L229.7,355.4 L232.2,353.7 L234.7,352.0 L237.3,350.3 L239.9,348.6 L242.5,346.9 L245.2,345.1 L247.8,343.4 L250.5,341.6 L253.5,339.6 L256.5,337.6 L259.5,335.5 L262.6,333.4 L265.6,331.3 L268.7,329.2 L271.9,327.1 L275.0,325.0 L278.1,323.0 L281.1,321.0 L284.1,319.1 L287.1,317.3 L290.2,315.4 L293.2,313.6 L296.2,311.8 L299.2,310.0 L302.2,308.3 L305.2,306.5 L308.2,304.8 L311.2,303.1 L314.2,301.5 L317.2,300.0 L320.1,298.5 L323.1,297.0 L326.0,295.5 L329.0,294.0 L332.0,292.5 L334.9,291.1 L337.9,289.6 L340.9,288.1 L344.0,286.5 L347.0,284.9 L350.1,283.3 L353.2,281.7 L356.3,280.1 L359.4,278.5 L362.5,276.9 L365.6,275.3 L368.6,273.8 L371.6,272.2 L374.4,270.7 L377.1,269.3 L379.9,267.8 L382.7,266.4 L385.4,264.9 L388.1,263.5 L390.8,262.1 L393.5,260.7 L396.1,259.4 L398.7,258.1 L401.0,257.0 L403.2,255.9 L405.4,254.8 L407.6,253.8 L409.8,252.8 L411.9,251.8 L414.1,250.8 L416.3,249.9 L418.6,248.9 L420.8,248.0 L423.2,247.1 L425.6,246.1 L428.0,245.3 L430.4,244.4 L432.9,243.5 L435.3,242.7 L437.8,241.9 L440.3,241.0 L442.9,240.2 L445.5,239.4 L448.4,238.5 L451.4,237.6 L454.4,236.7 L457.5,235.8 L460.6,234.9 L463.7,234.0 L466.8,233.2 L470.0,232.4 L473.1,231.6 L476.2,230.8 L479.2,230.1 L482.2,229.4 L485.2,228.7 L488.2,228.0 L491.2,227.4 L494.2,226.7 L497.2,226.2 L500.2,225.6 L503.2,225.1 L506.2,224.6 L509.3,224.1 L512.3,223.7 L515.3,223.3 L518.2,222.9 L521.2,222.6 L524.3,222.2 L527.3,222.0 L530.4,221.7 L533.5,221.4 L536.6,221.2 L540.2,220.9 L543.7,220.7 L547.3,220.5 L550.9,220.3 L554.6,220.2 L558.3,220.1 L562.0,219.9 L565.7,219.8 L569.4,219.8 L573.1,219.7 L577.0,219.6 L580.9,219.5 L584.8,219.5 L588.7,219.5 L592.7,219.5 L596.6,219.5 L600.5,219.5 L604.4,219.5 L608.3,219.6 L612.0,219.7 L615.5,219.8 L618.9,219.9 L622.3,220.0 L625.7,220.2 L629.1,220.3 L632.4,220.5 L635.7,220.7 L639.0,220.9 L642.3,221.2 L645.5,221.4 L648.5,221.7 L651.5,222.0 L654.5,222.3 L657.4,222.6 L660.4,223.0 L663.3,223.3 L666.2,223.7 L669.2,224.1 L672.1,224.5 L675.2,224.9 L678.3,225.2 L681.5,225.7 L684.7,226.1 L687.9,226.5 L691.1,227.0 L694.3,227.4 L697.5,227.8 L700.8,228.3 L704.0,228.7 L707.2,229.1 L710.6,229.6 L713.9,230.0 L717.3,230.5 L720.7,230.9 L724.1,231.4 L727.4,231.8 L730.8,232.2 L734.1,232.7 L737.4,233.1 L740.6,233.5 L743.5,233.9 L746.4,234.2 L749.3,234.6 L752.1,235.0 L754.9,235.4 L757.7,235.7 L760.5,236.0 L763.3,236.4 L766.1,236.7 L769.0,236.9 L771.8,237.2 L774.7,237.4 L777.5,237.6 L780.3,237.8 L783.2,238.0 L786.1,238.2 L789.0,238.3 L791.9,238.5 L794.9,238.6 L798.0,238.7 L801.5,238.8 L805.2,238.8 L809.0,238.8 L812.8,238.9 L816.6,238.8 L820.5,238.8 L824.4,238.8 L828.3,238.7 L832.2,238.6 L836.0,238.6 L839.8,238.5 L843.6,238.4 L847.4,238.3 L851.3,238.2 L855.1,238.0 L858.9,237.9 L862.7,237.7 L866.5,237.6 L870.2,237.5 L873.8,237.3 L877.2,237.2 L880.4,237.1 L883.7,237.0 L886.9,236.9 L890.1,236.8 L893.3,236.6 L896.4,236.5 L899.6,236.4 L902.8,236.3 L906.0,236.2" fill="none" stroke="#205ca2" stroke-width="2.8" stroke-linejoin="round"/>
<path d="M217.8,405.7 L219.8,405.2 L221.7,404.7 L223.7,404.2 L225.7,403.7 L227.7,403.2 L229.7,402.7 L231.6,402.2 L233.6,401.7 L235.5,401.1 L237.4,400.5 L239.2,399.9 L241.0,399.3 L242.8,398.6 L244.6,398.0 L246.4,397.3 L248.2,396.6 L249.9,395.9 L251.6,395.2 L253.3,394.4 L255.0,393.6 L256.6,392.8 L258.2,391.9 L259.7,391.0 L261.2,390.1 L262.7,389.2 L264.2,388.2 L265.7,387.2 L267.2,386.3 L268.6,385.2 L270.1,384.2 L271.6,383.2 L273.1,382.1 L274.5,381.0 L275.9,379.8 L277.4,378.7 L278.8,377.5 L280.2,376.4 L281.7,375.2 L283.2,374.0 L284.6,372.8 L286.3,371.6 L287.9,370.3 L289.5,369.0 L291.1,367.7 L292.8,366.4 L294.4,365.0 L296.1,363.7 L297.7,362.4 L299.4,361.0 L301.2,359.7 L303.0,358.3 L304.9,356.8 L306.8,355.4 L308.7,353.9 L310.6,352.4 L312.5,351.0 L314.5,349.5 L316.4,348.0 L318.3,346.6 L320.2,345.1 L322.1,343.6 L324.1,342.2 L326.0,340.7 L327.9,339.2 L329.9,337.8 L331.8,336.3 L333.7,334.9 L335.6,333.4 L337.5,332.0 L339.4,330.5 L341.1,329.2 L342.8,327.8 L344.5,326.4 L346.2,325.0 L347.9,323.7 L349.6,322.3 L351.3,320.9 L353.0,319.6 L354.7,318.3 L356.5,317.0 L358.3,315.7 L360.2,314.3 L362.0,313.0 L363.8,311.8 L365.7,310.5 L367.6,309.2 L369.5,308.0 L371.5,306.8 L373.5,305.6 L375.6,304.4 L378.0,303.1 L380.4,301.9 L382.8,300.6 L385.4,299.4 L387.9,298.2 L390.5,297.0 L393.1,295.9 L395.8,294.8 L398.5,293.6 L401.2,292.6 L404.2,291.4 L407.3,290.2 L410.4,289.1 L413.6,287.9 L416.8,286.8 L420.0,285.8 L423.2,284.7 L426.5,283.7 L429.8,282.7 L433.2,281.7 L436.8,280.7 L440.4,279.7 L444.1,278.8 L447.8,277.9 L451.5,277.0 L455.3,276.1 L459.0,275.3 L462.8,274.5 L466.6,273.7 L470.4,272.9 L474.4,272.2 L478.4,271.5 L482.4,270.8 L486.5,270.2 L490.5,269.6 L494.6,269.0 L498.6,268.5 L502.6,267.9 L506.6,267.4 L510.5,266.9 L514.1,266.5 L517.7,266.1 L521.4,265.7 L525.0,265.3 L528.6,265.0 L532.1,264.7 L535.6,264.4 L539.0,264.1 L542.4,263.8 L545.7,263.5 L548.4,263.3 L551.0,263.1 L553.5,262.9 L556.0,262.8 L558.5,262.6 L561.0,262.4 L563.4,262.3 L565.9,262.2 L568.3,262.0 L570.8,261.9 L573.3,261.8 L575.7,261.7 L578.1,261.6 L580.6,261.5 L583.0,261.4 L585.4,261.4 L587.9,261.3 L590.4,261.2 L592.9,261.2 L595.5,261.1 L598.5,261.0 L601.6,261.0 L604.7,260.9 L607.9,260.8 L611.1,260.8 L614.3,260.7 L617.6,260.7 L620.9,260.6 L624.1,260.6 L627.4,260.6 L630.8,260.5 L634.3,260.4 L637.8,260.4 L641.4,260.4 L644.9,260.3 L648.5,260.3 L652.0,260.2 L655.5,260.2 L659.0,260.1 L662.5,260.0 L665.9,260.0 L669.3,259.9 L672.7,259.9 L676.1,259.8 L679.4,259.8 L682.8,259.7 L686.1,259.6 L689.4,259.6 L692.6,259.5 L695.7,259.4 L698.4,259.4 L701.0,259.3 L703.6,259.3 L706.2,259.2 L708.7,259.1 L711.2,259.1 L713.7,259.0 L716.2,259.0 L718.6,259.0 L721.1,259.0 L723.4,259.0 L725.6,259.1 L727.9,259.1 L730.1,259.2 L732.3,259.3 L734.5,259.3 L736.7,259.4 L739.0,259.6 L741.2,259.7 L743.5,259.9 L745.9,260.0 L748.4,260.2 L750.8,260.5 L753.3,260.7 L755.8,261.0 L758.3,261.2 L760.8,261.5 L763.2,261.8 L765.7,262.1 L768.1,262.4 L770.4,262.7 L772.7,263.0 L775.0,263.3 L777.3,263.7 L779.5,264.0 L781.8,264.4 L784.0,264.7 L786.3,265.1 L788.5,265.5 L790.8,265.9 L792.9,266.2 L795.1,266.6 L797.2,267.0 L799.3,267.4 L801.5,267.9 L803.6,268.3 L805.7,268.7 L807.8,269.2 L810.0,269.6 L812.1,270.0 L814.3,270.5 L816.5,271.0 L818.7,271.5 L821.0,272.0 L823.2,272.4 L825.4,272.9 L827.6,273.4 L829.8,273.9 L832.1,274.4 L834.3,274.9 L836.5,275.3 L838.7,275.8 L841.0,276.3 L843.2,276.8 L845.4,277.2 L847.7,277.7 L849.9,278.2 L852.1,278.6 L854.2,279.0 L856.4,279.4 L858.4,279.8 L860.4,280.2 L862.4,280.5 L864.4,280.8 L866.3,281.2 L868.3,281.5 L870.2,281.8 L872.1,282.1 L873.9,282.4 L875.8,282.6 L877.2,282.8 L878.7,283.0 L880.1,283.2 L881.5,283.4 L882.8,283.5 L884.2,283.7 L885.5,283.8 L886.9,284.0 L888.2,284.1 L889.6,284.3" fill="none" stroke="#d64a26" stroke-width="2.8" stroke-linejoin="round"/>
<rect x="717.5" y="254.6" width="8.2" height="8.2" fill="none" stroke="#7a4438" stroke-width="1.1"/>
<rect x="398.3" y="193.4" width="8.2" height="8.2" fill="none" stroke="#7a4438" stroke-width="1.1"/>
<rect x="566.3" y="215.3" width="8.2" height="8.2" fill="none" stroke="#2a5080" stroke-width="1.1"/>
<rect x="403.6" y="149.7" width="8.2" height="8.2" fill="none" stroke="#2a5080" stroke-width="1.1"/>
<rect x="531.5" y="191.5" width="8.2" height="8.2" fill="none" stroke="#3a763a" stroke-width="1.1"/>
<rect x="391.6" y="107.5" width="8.2" height="8.2" fill="none" stroke="#3a763a" stroke-width="1.1"/>
<rect x="544.3" y="173.2" width="8.2" height="8.2" fill="none" stroke="#c8a060" stroke-width="1.1"/>
<rect x="423.3" y="108.2" width="8.2" height="8.2" fill="none" stroke="#c8a060" stroke-width="1.1"/>
</g>
<g clip-path="url(#clipBot)">
<path d="M162.0,779.2 L162.3,777.9 L162.5,776.7 L162.8,775.4 L163.0,774.1 L163.3,772.9 L163.6,771.6 L163.8,770.3 L164.1,769.1 L164.3,767.8 L164.6,766.5 L164.9,765.2 L165.1,763.9 L165.4,762.6 L165.7,761.3 L166.0,760.0 L166.3,758.7 L166.5,757.3 L166.8,756.0 L167.1,754.7 L167.3,753.3 L167.5,751.9 L167.8,750.4 L168.0,749.0 L168.2,747.5 L168.4,746.0 L168.6,744.6 L168.8,743.1 L169.0,741.6 L169.2,740.0 L169.5,738.5 L169.8,736.8 L170.2,735.0 L170.5,733.2 L170.9,731.4 L171.3,729.5 L171.7,727.7 L172.0,725.8 L172.4,724.0 L172.8,722.2 L173.2,720.4 L173.6,718.7 L173.9,717.0 L174.3,715.2 L174.6,713.5 L175.0,711.8 L175.3,710.1 L175.7,708.5 L176.1,706.8 L176.4,705.1 L176.8,703.5 L177.1,702.0 L177.5,700.5 L177.9,699.0 L178.2,697.6 L178.6,696.1 L178.9,694.7 L179.3,693.3 L179.7,691.8 L180.0,690.4 L180.4,689.0 L180.7,687.6 L181.1,686.3 L181.4,684.9 L181.7,683.5 L182.0,682.1 L182.3,680.8 L182.7,679.5 L183.1,678.2 L183.5,676.9 L184.0,675.7 L184.5,674.6 L185.0,673.4 L185.5,672.2 L186.1,671.1 L186.7,669.9 L187.3,668.9 L187.9,667.9 L188.6,667.1 L189.3,666.5 L190.1,666.0 L190.7,665.8 L191.4,665.7 L192.1,665.6 L192.9,665.7 L193.7,665.8 L194.4,666.0 L195.2,666.2 L195.9,666.5 L196.6,666.8 L197.3,667.2 L198.1,667.7 L198.8,668.4 L199.6,669.1 L200.3,669.9 L201.0,670.8 L201.6,671.8 L202.3,672.7 L203.0,673.7 L203.7,674.7 L204.4,675.6 L205.2,676.7 L206.0,677.8 L206.8,679.1 L207.6,680.3 L208.4,681.6 L209.2,682.8 L210.0,684.0 L210.8,685.1 L211.7,686.1 L212.6,687.0 L213.4,687.7 L214.2,688.3 L215.0,689.0 L215.9,689.5 L216.8,690.1 L217.6,690.6 L218.5,691.0 L219.4,691.3 L220.3,691.6 L221.1,691.8 L221.8,691.9 L222.6,691.9 L223.3,691.9 L224.0,691.8 L224.8,691.6 L225.5,691.5 L226.2,691.3 L226.9,691.0 L227.6,690.8 L228.3,690.6 L228.9,690.4 L229.5,690.1 L230.1,689.8 L230.6,689.5 L231.2,689.2 L231.8,688.9 L232.3,688.6 L232.9,688.2 L233.6,687.9 L234.3,687.6 L235.4,687.2 L236.6,686.7 L237.8,686.3 L239.1,685.9 L240.5,685.5 L241.9,685.0 L243.3,684.6 L244.7,684.2 L246.2,683.8 L247.6,683.4 L249.2,683.0 L250.8,682.5 L252.4,682.0 L254.0,681.6 L255.6,681.1 L257.3,680.7 L259.0,680.3 L260.8,679.9 L262.6,679.5 L264.5,679.2 L267.0,678.8 L269.6,678.5 L272.3,678.3 L275.0,678.1 L277.8,677.9 L280.7,677.8 L283.6,677.6 L286.5,677.3 L289.4,677.1 L292.3,676.7 L295.5,676.2 L298.8,675.8 L302.2,675.2 L305.7,674.7 L309.1,674.1 L312.5,673.4 L315.8,672.8 L318.8,672.0 L321.7,671.3 L324.2,670.5 L325.7,669.9 L327.0,669.4 L328.2,668.7 L329.3,668.1 L330.4,667.4 L331.5,666.7 L332.6,666.1 L333.7,665.5 L334.9,665.0 L336.2,664.5 L337.8,664.0 L339.4,663.6 L341.1,663.2 L342.8,662.9 L344.6,662.6 L346.4,662.3 L348.3,662.1 L350.2,661.9 L352.2,661.7 L354.3,661.5 L357.5,661.3 L360.9,661.2 L364.5,661.1 L368.3,661.1 L372.1,661.1 L376.0,661.1 L379.9,661.2 L383.6,661.3 L387.2,661.4 L390.6,661.5 L393.2,661.6 L395.7,661.7 L398.0,661.8 L400.4,662.0 L402.7,662.1 L405.0,662.3 L407.3,662.4 L409.7,662.5 L412.1,662.6 L414.7,662.7 L418.0,662.7 L421.6,662.8 L425.2,662.8 L429.0,662.7 L432.8,662.7 L436.5,662.6 L440.2,662.5 L443.8,662.4 L447.1,662.3 L450.2,662.1 L452.3,662.0 L454.3,661.8 L456.2,661.6 L458.1,661.4 L459.9,661.2 L461.6,661.0 L463.3,660.8 L465.0,660.6 L466.7,660.4 L468.3,660.3 L469.6,660.2 L470.9,660.1 L472.1,660.0 L473.3,659.9 L474.5,659.9 L475.7,659.8 L476.8,659.8 L478.0,659.7 L479.2,659.7 L480.4,659.7 L481.6,659.7 L482.8,659.7 L484.0,659.7 L485.1,659.8 L486.3,659.8 L487.5,659.9 L488.7,659.9 L489.9,660.0 L491.2,660.2 L492.5,660.3 L494.1,660.5 L495.8,660.8 L497.5,661.1 L499.3,661.5 L501.1,661.8 L502.9,662.2 L504.7,662.6 L506.7,663.1 L508.6,663.5 L510.6,663.9 L513.2,664.4 L515.9,665.0 L518.8,665.7 L521.6,666.3 L524.6,667.0 L527.6,667.6 L530.6,668.2 L533.6,668.8 L536.6,669.4 L539.6,669.9 L542.7,670.4 L545.9,670.8 L549.1,671.1 L552.3,671.5 L555.5,671.8 L558.7,672.1 L561.9,672.3 L565.1,672.6 L568.3,673.0 L571.4,673.3 L574.4,673.7 L577.5,674.1 L580.6,674.5 L583.7,674.9 L586.8,675.4 L589.8,675.8 L592.7,676.1 L595.4,676.5 L598.0,676.7 L600.4,676.9 L601.8,677.0 L603.0,677.0 L604.2,677.0 L605.2,676.9 L606.3,676.9 L607.3,676.9 L608.5,676.8 L609.7,676.8 L611.0,676.8 L612.5,676.9 L616.0,677.2 L619.9,677.5 L624.3,678.0 L629.0,678.6 L634.0,679.2 L639.1,679.9 L644.3,680.5 L649.5,681.2 L654.6,681.8 L659.6,682.3 L664.8,682.8 L670.3,683.3 L675.8,683.7 L681.5,684.1 L687.1,684.5 L692.6,684.9 L697.9,685.4 L702.9,685.8 L707.6,686.3 L711.9,686.9 L714.3,687.3 L716.6,687.7 L718.7,688.1 L720.8,688.6 L722.7,689.0 L724.6,689.4 L726.5,689.9 L728.4,690.3 L730.4,690.7 L732.5,691.1 L734.8,691.5 L737.2,691.9 L739.6,692.3 L742.0,692.6 L744.4,693.0 L746.9,693.3 L749.3,693.7 L751.8,694.0 L754.2,694.2 L756.6,694.5 L758.9,694.7 L761.2,694.9 L763.5,695.1 L765.8,695.3 L768.1,695.4 L770.4,695.6 L772.7,695.7 L775.1,695.8 L777.5,695.9 L780.0,696.0 L783.1,696.1 L786.2,696.1 L789.5,696.2 L792.8,696.2 L796.1,696.2 L799.5,696.2 L802.8,696.2 L806.2,696.2 L809.5,696.3 L812.7,696.4 L815.8,696.6 L818.9,696.8 L822.1,697.1 L825.2,697.5 L828.3,697.8 L831.4,698.1 L834.4,698.3 L837.3,698.5 L840.1,698.6 L842.8,698.5 L844.9,698.3 L846.9,698.0 L848.9,697.7 L850.9,697.3 L852.8,696.8 L854.6,696.4 L856.4,696.0 L858.1,695.7 L859.6,695.4 L861.1,695.3 L861.9,695.3 L862.7,695.3 L863.4,695.3 L864.1,695.4 L864.8,695.5 L865.4,695.6 L866.0,695.7 L866.7,695.7 L867.3,695.8 L868.0,695.9" fill="none" stroke="#d6b074" stroke-width="2.6" stroke-dasharray="2.7 3.15"/>
<path d="M89.6,863.5 L90.1,862.5 L90.7,861.5 L91.2,860.5 L91.8,859.5 L92.3,858.5 L92.8,857.5 L93.4,856.5 L93.9,855.5 L94.5,854.5 L95.0,853.5 L95.6,852.4 L96.2,851.3 L96.7,850.1 L97.3,849.0 L97.9,847.9 L98.5,846.7 L99.1,845.6 L99.7,844.4 L100.3,843.3 L100.9,842.2 L101.5,841.1 L102.1,840.1 L102.7,839.0 L103.3,837.9 L103.9,836.9 L104.5,835.8 L105.1,834.8 L105.7,833.7 L106.3,832.7 L106.9,831.6 L107.5,830.5 L108.1,829.5 L108.7,828.4 L109.3,827.4 L109.9,826.3 L110.5,825.3 L111.1,824.2 L111.7,823.1 L112.3,822.1 L112.9,821.0 L113.5,819.9 L114.1,818.8 L114.7,817.7 L115.3,816.6 L115.9,815.5 L116.5,814.4 L117.1,813.2 L117.7,812.1 L118.3,810.9 L118.9,809.7 L119.6,808.3 L120.2,806.8 L120.9,805.2 L121.5,803.6 L122.2,802.1 L122.9,800.5 L123.5,798.9 L124.2,797.3 L124.8,795.8 L125.5,794.4 L126.1,793.2 L126.7,792.0 L127.3,790.9 L127.9,789.7 L128.5,788.6 L129.1,787.5 L129.7,786.4 L130.3,785.3 L130.9,784.2 L131.5,783.1 L132.1,782.0 L132.7,781.0 L133.3,779.9 L133.9,778.8 L134.5,777.8 L135.1,776.7 L135.7,775.7 L136.3,774.6 L136.9,773.6 L137.4,772.5 L137.9,771.4 L138.4,770.4 L138.9,769.3 L139.4,768.3 L139.8,767.2 L140.3,766.2 L140.7,765.1 L141.2,764.0 L141.6,763.0 L142.1,761.9 L142.6,760.8 L143.0,759.8 L143.5,758.7 L144.0,757.7 L144.4,756.6 L144.9,755.6 L145.4,754.5 L145.8,753.4 L146.3,752.4 L146.7,751.3 L147.1,750.2 L147.6,749.1 L148.0,748.0 L148.4,746.9 L148.8,745.8 L149.2,744.7 L149.6,743.6 L150.0,742.5 L150.4,741.4 L150.8,740.3 L151.2,739.2 L151.6,738.0 L152.1,736.9 L152.5,735.7 L152.9,734.5 L153.3,733.4 L153.8,732.2 L154.2,731.1 L154.6,729.9 L155.0,728.8 L155.4,727.7 L155.8,726.6 L156.1,725.6 L156.5,724.5 L156.9,723.4 L157.3,722.4 L157.6,721.3 L158.0,720.2 L158.3,719.1 L158.7,718.0 L159.1,716.8 L159.4,715.6 L159.8,714.4 L160.2,713.2 L160.6,712.0 L160.9,710.8 L161.3,709.5 L161.6,708.3 L162.0,707.1 L162.3,705.9 L162.6,704.7 L162.9,703.6 L163.2,702.4 L163.5,701.2 L163.7,700.1 L164.0,698.9 L164.3,697.8 L164.6,696.6 L164.9,695.5 L165.3,694.4 L165.7,693.3 L166.1,692.3 L166.5,691.2 L166.9,690.1 L167.3,689.1 L167.7,688.1 L168.2,687.1 L168.6,686.1 L169.1,685.1 L169.5,684.2 L169.9,683.5 L170.2,682.7 L170.6,682.0 L170.9,681.4 L171.3,680.7 L171.6,680.1 L172.0,679.4 L172.4,678.8 L172.8,678.1 L173.2,677.5 L173.6,676.9 L174.1,676.2 L174.5,675.6 L174.9,674.9 L175.4,674.3 L175.9,673.6 L176.4,673.1 L176.9,672.5 L177.4,672.0 L178.0,671.5 L178.6,671.1 L179.3,670.6 L180.0,670.2 L180.7,669.8 L181.4,669.5 L182.2,669.2 L182.9,668.9 L183.7,668.7 L184.5,668.6 L185.2,668.5 L185.9,668.5 L186.6,668.5 L187.3,668.6 L188.1,668.7 L188.8,668.9 L189.5,669.2 L190.2,669.4 L191.0,669.7 L191.7,670.0 L192.5,670.3 L193.5,670.8 L194.5,671.3 L195.5,671.9 L196.5,672.6 L197.6,673.3 L198.6,674.0 L199.7,674.7 L200.8,675.4 L201.8,676.1 L202.9,676.7 L204.0,677.3 L205.0,677.9 L206.1,678.5 L207.1,679.1 L208.2,679.7 L209.3,680.3 L210.4,680.8 L211.5,681.3 L212.6,681.8 L213.8,682.2 L215.2,682.6 L216.6,683.0 L218.0,683.3 L219.5,683.5 L221.1,683.8 L222.6,684.0 L224.1,684.1 L225.5,684.3 L227.0,684.5 L228.3,684.6 L229.3,684.7 L230.3,684.8 L231.3,684.9 L232.3,685.0 L233.2,685.1 L234.1,685.1 L235.1,685.2 L236.0,685.2 L237.0,685.2 L238.0,685.2 L239.1,685.2 L240.3,685.1 L241.5,685.0 L242.7,685.0 L243.9,684.8 L245.1,684.7 L246.3,684.6 L247.5,684.4 L248.8,684.2 L250.0,684.0 L251.4,683.7 L252.8,683.4 L254.3,683.1 L255.7,682.7 L257.2,682.4 L258.6,682.0 L260.1,681.6 L261.6,681.2 L263.0,680.8 L264.5,680.4 L265.9,680.0 L267.4,679.7 L268.8,679.3 L270.3,679.0 L271.7,678.6 L273.1,678.2 L274.6,677.9 L276.0,677.5 L277.5,677.1 L279.0,676.7 L280.6,676.3 L282.3,675.8 L283.9,675.4 L285.6,674.9 L287.2,674.4 L288.9,673.9 L290.6,673.4 L292.4,672.9 L294.1,672.4 L295.9,671.9 L298.0,671.3 L300.2,670.6 L302.4,669.8 L304.7,669.1 L306.9,668.4 L309.2,667.6 L311.5,666.9 L313.7,666.2 L315.9,665.6 L318.1,665.1 L320.0,664.7 L321.8,664.3 L323.6,663.9 L325.4,663.6 L327.2,663.3 L329.0,663.1 L330.8,662.8 L332.6,662.6 L334.4,662.3 L336.2,662.1 L338.0,661.9 L339.8,661.7 L341.6,661.5 L343.4,661.3 L345.3,661.2 L347.1,661.0 L348.9,660.9 L350.7,660.8 L352.5,660.7 L354.3,660.6 L356.1,660.5 L357.9,660.5 L359.6,660.4 L361.4,660.4 L363.2,660.3 L365.0,660.3 L366.7,660.3 L368.5,660.3 L370.3,660.3 L372.1,660.3 L373.9,660.3 L375.8,660.3 L377.6,660.3 L379.5,660.3 L381.3,660.3 L383.2,660.3 L385.1,660.4 L386.9,660.4 L388.8,660.5 L390.6,660.6 L392.4,660.7 L394.3,660.9 L396.2,661.1 L398.1,661.2 L399.9,661.4 L401.8,661.7 L403.6,661.9 L405.4,662.2 L407.1,662.4 L408.7,662.7 L409.9,662.9 L411.0,663.2 L412.1,663.5 L413.1,663.8 L414.1,664.0 L415.1,664.3 L416.2,664.6 L417.4,664.9 L418.6,665.2 L420.0,665.4 L422.9,665.8 L426.2,666.2 L429.9,666.6 L433.9,667.0 L438.0,667.3 L442.1,667.6 L446.1,667.8 L449.9,668.0 L453.3,668.1 L456.2,668.1 L457.7,668.1 L459.0,668.0 L460.2,667.9 L461.4,667.8 L462.5,667.6 L463.6,667.5 L464.7,667.3 L465.8,667.2 L467.0,667.0 L468.3,666.9 L470.0,666.8 L471.7,666.6 L473.5,666.5 L475.3,666.3 L477.1,666.2 L479.0,666.0 L480.9,665.9 L482.7,665.8 L484.6,665.7 L486.4,665.7 L488.2,665.7 L490.0,665.7 L491.8,665.7 L493.6,665.8 L495.4,665.8 L497.3,665.9 L499.1,666.0 L500.9,666.1 L502.7,666.2 L504.5,666.3 L506.3,666.4 L508.1,666.6 L510.0,666.7 L511.8,666.9 L513.6,667.1 L515.5,667.3 L517.3,667.5 L519.1,667.7 L520.9,667.9 L522.7,668.1 L524.4,668.3 L526.1,668.5 L527.8,668.7 L529.4,668.9 L531.1,669.1 L532.7,669.3 L534.4,669.5 L536.2,669.7 L538.1,669.9 L540.0,670.1 L542.8,670.4 L545.7,670.7 L548.7,671.0 L551.9,671.3 L555.1,671.6 L558.4,671.9 L561.7,672.2 L565.0,672.6 L568.2,672.9 L571.4,673.3 L574.6,673.7 L577.8,674.1 L581.0,674.5 L584.2,675.0 L587.3,675.4 L590.5,675.9 L593.7,676.4 L596.8,676.9 L599.9,677.4 L603.0,678.0 L605.8,678.6 L608.6,679.2 L611.4,679.9 L614.1,680.5 L616.9,681.2 L619.6,681.9 L622.3,682.6 L625.0,683.2 L627.8,683.7 L630.6,684.2 L633.5,684.6 L636.4,685.0 L639.4,685.3 L642.4,685.6 L645.4,685.9 L648.4,686.1 L651.3,686.3 L654.3,686.5 L657.2,686.6 L660.0,686.7 L662.5,686.7 L665.0,686.7 L667.4,686.6 L669.9,686.5 L672.3,686.4 L674.6,686.3 L677.0,686.2 L679.4,686.2 L681.8,686.1 L684.2,686.2 L686.6,686.3 L689.0,686.5 L691.4,686.7 L693.8,687.0 L696.3,687.2 L698.7,687.5 L701.1,687.8 L703.5,688.1 L705.9,688.4 L708.3,688.7 L710.7,689.0 L713.1,689.3 L715.6,689.6 L718.0,689.9 L720.4,690.2 L722.8,690.5 L725.2,690.8 L727.7,691.1 L730.1,691.4 L732.5,691.7 L734.9,692.0 L737.3,692.3 L739.7,692.7 L742.1,693.0 L744.5,693.3 L746.9,693.7 L749.4,694.0 L751.8,694.3 L754.2,694.6 L756.6,694.8 L759.0,695.0 L761.4,695.2 L763.8,695.4 L766.2,695.6 L768.6,695.7 L771.0,695.9 L773.4,696.0 L775.9,696.1 L778.4,696.2 L781.0,696.3 L784.0,696.4 L787.2,696.4 L790.4,696.4 L793.7,696.4 L797.1,696.4 L800.4,696.4 L803.6,696.4 L806.8,696.4 L809.8,696.5 L812.7,696.6 L814.9,696.7 L817.0,696.9 L819.1,697.1 L821.2,697.3 L823.2,697.5 L825.1,697.7 L827.0,698.0 L828.8,698.2 L830.6,698.3 L832.3,698.5 L833.5,698.6 L834.6,698.7 L835.6,698.8 L836.6,698.9 L837.6,699.0 L838.6,699.1 L839.6,699.2 L840.6,699.2 L841.7,699.2 L842.8,699.2 L844.3,699.1 L845.8,699.0 L847.4,698.8 L849.1,698.6 L850.7,698.3 L852.4,698.1 L854.0,697.8 L855.6,697.6 L857.1,697.4 L858.5,697.2 L859.5,697.1 L860.5,697.0 L861.4,697.0 L862.3,696.9 L863.2,696.9 L864.1,696.8 L864.9,696.8 L865.8,696.7 L866.7,696.7 L867.6,696.6" fill="none" stroke="#25662f" stroke-width="2.6" stroke-dasharray="2.7 3.15"/>
<path d="M131.5,807.7 L132.1,806.5 L132.7,805.3 L133.3,804.2 L133.9,803.0 L134.5,801.8 L135.1,800.6 L135.6,799.4 L136.2,798.2 L136.8,797.0 L137.4,795.8 L138.0,794.5 L138.6,793.2 L139.2,791.9 L139.7,790.5 L140.3,789.2 L140.9,787.8 L141.5,786.5 L142.1,785.1 L142.7,783.8 L143.4,782.5 L144.1,781.1 L144.9,779.8 L145.7,778.4 L146.6,777.1 L147.4,775.7 L148.3,774.4 L149.1,773.1 L149.9,771.8 L150.7,770.5 L151.4,769.2 L152.0,768.1 L152.6,767.0 L153.1,766.0 L153.6,764.9 L154.1,763.9 L154.6,762.9 L155.1,761.8 L155.6,760.8 L156.2,759.7 L156.7,758.6 L157.3,757.4 L157.9,756.2 L158.5,754.9 L159.1,753.7 L159.8,752.4 L160.4,751.1 L161.0,749.9 L161.6,748.6 L162.2,747.3 L162.8,746.0 L163.4,744.7 L163.9,743.3 L164.5,741.9 L165.1,740.6 L165.6,739.2 L166.1,737.8 L166.7,736.5 L167.2,735.1 L167.8,733.8 L168.3,732.5 L168.8,731.4 L169.3,730.3 L169.8,729.2 L170.3,728.1 L170.8,727.1 L171.3,726.0 L171.8,724.9 L172.3,723.8 L172.7,722.7 L173.2,721.6 L173.7,720.3 L174.2,719.0 L174.7,717.6 L175.1,716.3 L175.6,714.9 L176.1,713.5 L176.5,712.2 L177.0,710.8 L177.5,709.5 L178.0,708.3 L178.5,707.3 L178.9,706.3 L179.4,705.3 L179.8,704.3 L180.3,703.4 L180.8,702.5 L181.3,701.5 L181.8,700.6 L182.3,699.6 L182.8,698.6 L183.4,697.4 L184.0,696.3 L184.6,695.0 L185.2,693.8 L185.8,692.6 L186.4,691.4 L187.0,690.1 L187.6,688.9 L188.3,687.7 L188.9,686.6 L189.5,685.6 L190.0,684.5 L190.6,683.5 L191.2,682.4 L191.7,681.4 L192.3,680.4 L192.9,679.5 L193.6,678.6 L194.2,677.7 L194.9,676.9 L195.5,676.2 L196.2,675.6 L196.9,674.9 L197.6,674.3 L198.4,673.8 L199.1,673.2 L199.8,672.7 L200.6,672.3 L201.3,671.9 L202.1,671.5 L202.8,671.2 L203.4,671.0 L204.1,670.8 L204.7,670.6 L205.4,670.5 L206.1,670.3 L206.8,670.2 L207.5,670.2 L208.2,670.1 L209.0,670.1 L210.1,670.1 L211.2,670.2 L212.4,670.3 L213.6,670.4 L214.9,670.6 L216.1,670.9 L217.4,671.1 L218.6,671.4 L219.9,671.6 L221.1,671.9 L222.3,672.2 L223.5,672.5 L224.7,672.8 L225.9,673.2 L227.1,673.6 L228.3,674.0 L229.5,674.4 L230.7,674.7 L231.9,675.1 L233.1,675.5 L234.3,675.9 L235.5,676.2 L236.7,676.6 L237.9,677.0 L239.1,677.4 L240.4,677.7 L241.6,678.1 L242.8,678.5 L244.0,678.8 L245.2,679.2 L246.4,679.6 L247.6,680.0 L248.8,680.3 L250.0,680.7 L251.2,681.1 L252.4,681.5 L253.6,681.9 L254.8,682.2 L256.1,682.5 L257.3,682.8 L258.6,683.1 L259.9,683.3 L261.2,683.6 L262.5,683.8 L263.9,684.0 L265.2,684.2 L266.5,684.3 L267.9,684.5 L269.2,684.5 L270.6,684.6 L272.0,684.6 L273.5,684.6 L274.9,684.6 L276.4,684.5 L277.9,684.4 L279.3,684.3 L280.8,684.1 L282.2,683.9 L283.7,683.7 L285.1,683.4 L286.5,683.1 L287.8,682.7 L289.1,682.2 L290.4,681.7 L291.7,681.2 L293.0,680.7 L294.3,680.2 L295.7,679.7 L297.0,679.2 L298.5,678.8 L300.3,678.4 L302.2,678.0 L304.1,677.6 L306.1,677.3 L308.1,676.9 L310.1,676.6 L312.1,676.3 L314.2,676.0 L316.2,675.7 L318.1,675.4 L319.9,675.1 L321.8,674.8 L323.6,674.5 L325.4,674.2 L327.2,673.9 L329.0,673.6 L330.8,673.3 L332.6,673.0 L334.4,672.7 L336.2,672.3 L338.0,671.9 L339.8,671.5 L341.6,671.1 L343.5,670.7 L345.3,670.2 L347.1,669.8 L348.9,669.3 L350.7,668.9 L352.5,668.5 L354.3,668.1 L356.1,667.7 L357.9,667.3 L359.6,666.9 L361.4,666.5 L363.2,666.1 L364.9,665.7 L366.7,665.4 L368.5,665.1 L370.3,664.9 L372.1,664.7 L373.9,664.6 L375.8,664.6 L377.6,664.6 L379.5,664.7 L381.3,664.8 L383.2,664.9 L385.1,665.1 L386.9,665.2 L388.8,665.4 L390.6,665.5 L392.4,665.6 L394.3,665.8 L396.2,665.9 L398.1,666.1 L399.9,666.2 L401.8,666.4 L403.6,666.5 L405.4,666.7 L407.1,666.8 L408.7,666.9 L409.9,667.0 L411.0,667.1 L412.1,667.1 L413.1,667.2 L414.1,667.2 L415.1,667.3 L416.2,667.3 L417.4,667.4 L418.6,667.4 L420.0,667.5 L422.8,667.6 L426.1,667.6 L429.7,667.7 L433.6,667.7 L437.6,667.7 L441.6,667.7 L445.6,667.8 L449.4,667.8 L453.0,668.0 L456.2,668.1 L458.3,668.2 L460.2,668.4 L462.1,668.6 L463.9,668.8 L465.6,669.0 L467.4,669.2 L469.1,669.4 L470.8,669.6 L472.5,669.8 L474.3,669.9 L476.1,670.0 L477.9,670.1 L479.7,670.2 L481.5,670.2 L483.2,670.2 L485.0,670.3 L486.9,670.3 L488.7,670.4 L490.6,670.4 L492.5,670.5 L494.8,670.6 L497.1,670.7 L499.5,670.8 L501.9,670.9 L504.4,671.0 L506.8,671.1 L509.3,671.2 L511.8,671.3 L514.2,671.5 L516.6,671.7 L518.9,671.9 L521.3,672.2 L523.5,672.4 L525.8,672.7 L528.1,673.0 L530.4,673.3 L532.7,673.6 L535.1,673.9 L537.5,674.3 L540.0,674.6 L543.0,675.0 L546.0,675.4 L549.1,675.9 L552.3,676.3 L555.5,676.8 L558.7,677.3 L561.9,677.8 L565.1,678.3 L568.3,678.8 L571.4,679.3 L574.3,679.8 L577.3,680.4 L580.2,681.0 L583.1,681.6 L585.9,682.2 L588.8,682.8 L591.7,683.3 L594.6,683.9 L597.5,684.4 L600.4,684.8 L603.4,685.2 L606.4,685.5 L609.4,685.8 L612.4,686.0 L615.5,686.2 L618.5,686.4 L621.5,686.6 L624.6,686.8 L627.6,687.0 L630.6,687.2 L633.6,687.4 L636.6,687.6 L639.5,687.8 L642.5,688.0 L645.5,688.2 L648.5,688.3 L651.4,688.6 L654.3,688.8 L657.2,689.1 L660.0,689.4 L662.6,689.7 L665.1,690.1 L667.7,690.6 L670.3,691.0 L672.8,691.5 L675.2,692.0 L677.6,692.4 L679.9,692.8 L682.1,693.2 L684.2,693.6 L685.5,693.8 L686.8,694.0 L688.0,694.2 L689.1,694.4 L690.2,694.6 L691.3,694.8 L692.4,695.0 L693.6,695.1 L694.8,695.3 L696.2,695.4 L698.3,695.5 L700.6,695.6 L702.9,695.7 L705.4,695.7 L708.0,695.7 L710.6,695.7 L713.1,695.7 L715.7,695.8 L718.1,695.9 L720.4,696.0 L722.3,696.2 L724.2,696.3 L726.1,696.5 L727.9,696.8 L729.8,697.0 L731.5,697.2 L733.3,697.5 L735.1,697.8 L736.8,698.1 L738.5,698.4 L740.0,698.7 L741.5,699.1 L743.0,699.5 L744.4,699.9 L745.8,700.3 L747.2,700.7 L748.6,701.1 L750.1,701.4 L751.5,701.8 L753.0,702.0 L754.5,702.2 L756.1,702.3 L757.7,702.4 L759.3,702.5 L760.9,702.5 L762.5,702.6 L764.1,702.6 L765.6,702.6 L767.2,702.6 L768.7,702.6 L770.1,702.6 L771.4,702.6 L772.6,702.6 L773.9,702.5 L775.2,702.5 L776.5,702.5 L777.8,702.5 L779.1,702.4 L780.5,702.5 L782.0,702.5 L784.1,702.6 L786.4,702.7 L788.7,702.9 L791.1,703.1 L793.6,703.3 L796.1,703.6 L798.6,703.8 L801.2,704.0 L803.7,704.2 L806.2,704.4 L808.8,704.6 L811.4,704.7 L814.0,704.9 L816.6,705.0 L819.2,705.1 L821.8,705.3 L824.4,705.4 L827.1,705.5 L829.7,705.6 L832.3,705.7 L834.9,705.8 L837.6,705.9 L840.3,706.0 L843.0,706.1 L845.6,706.2 L848.3,706.2 L850.9,706.3 L853.5,706.3 L856.0,706.4 L858.5,706.4 L860.6,706.4 L862.7,706.4 L864.7,706.4 L866.7,706.4 L868.7,706.4 L870.7,706.4 L872.6,706.3 L874.5,706.3 L876.3,706.2 L878.1,706.1 L879.5,706.0 L880.9,705.9 L882.2,705.8 L883.5,705.7 L884.8,705.5 L886.0,705.4 L887.3,705.3 L888.6,705.1 L889.9,705.0 L891.2,704.8 L892.6,704.6 L894.1,704.4 L895.6,704.2 L897.1,704.0 L898.5,703.8 L900.0,703.6 L901.5,703.4 L903.0,703.2 L904.5,703.0 L906.0,702.8" fill="none" stroke="#284a72" stroke-width="2.6" stroke-dasharray="2.7 3.15"/>
<path d="M216.8,857.6 L217.5,854.5 L218.2,851.4 L219.0,848.2 L219.7,844.9 L220.4,841.7 L221.1,838.6 L221.8,835.6 L222.5,832.7 L223.1,830.0 L223.6,827.6 L223.9,826.2 L224.2,825.0 L224.4,823.8 L224.6,822.7 L224.9,821.6 L225.1,820.5 L225.3,819.5 L225.5,818.4 L225.7,817.3 L226.0,816.2 L226.3,815.0 L226.6,813.7 L226.9,812.5 L227.2,811.2 L227.5,810.0 L227.8,808.7 L228.1,807.4 L228.4,806.1 L228.7,804.8 L229.0,803.5 L229.3,802.0 L229.7,800.5 L230.1,799.0 L230.4,797.4 L230.8,795.9 L231.1,794.3 L231.5,792.7 L231.9,791.1 L232.2,789.4 L232.6,787.8 L233.0,785.9 L233.4,784.0 L233.8,782.1 L234.2,780.1 L234.6,778.1 L235.1,776.1 L235.5,774.1 L235.9,772.2 L236.3,770.4 L236.7,768.7 L237.0,767.4 L237.3,766.2 L237.7,765.0 L238.0,763.9 L238.3,762.7 L238.6,761.6 L239.0,760.5 L239.3,759.4 L239.6,758.3 L239.9,757.2 L240.2,756.1 L240.5,755.0 L240.7,753.9 L241.0,752.8 L241.3,751.7 L241.5,750.6 L241.8,749.5 L242.1,748.4 L242.4,747.3 L242.7,746.2 L243.0,745.1 L243.4,743.9 L243.7,742.8 L244.1,741.6 L244.4,740.5 L244.8,739.3 L245.2,738.1 L245.6,737.0 L246.0,735.8 L246.4,734.7 L246.8,733.5 L247.2,732.4 L247.7,731.2 L248.1,730.1 L248.6,728.9 L249.0,727.7 L249.5,726.6 L250.0,725.5 L250.5,724.3 L251.0,723.2 L251.5,722.1 L252.0,721.0 L252.5,719.9 L253.0,718.8 L253.5,717.8 L254.1,716.7 L254.6,715.6 L255.2,714.6 L255.8,713.6 L256.5,712.6 L257.2,711.6 L258.0,710.6 L258.7,709.6 L259.6,708.7 L260.4,707.7 L261.2,706.8 L262.1,705.9 L263.0,705.1 L263.9,704.2 L264.8,703.4 L265.7,702.7 L266.5,702.0 L267.4,701.3 L268.3,700.6 L269.2,700.0 L270.2,699.3 L271.1,698.7 L272.1,698.2 L273.0,697.6 L274.0,697.0 L275.0,696.4 L276.0,695.8 L277.0,695.2 L278.1,694.6 L279.1,694.0 L280.2,693.5 L281.2,693.0 L282.3,692.5 L283.5,692.2 L284.6,691.9 L285.9,691.7 L287.2,691.6 L288.6,691.6 L290.0,691.7 L291.4,691.8 L292.8,692.0 L294.3,692.2 L295.7,692.3 L297.1,692.5 L298.5,692.6 L299.9,692.7 L301.2,692.8 L302.6,693.0 L304.0,693.2 L305.4,693.3 L306.7,693.5 L308.1,693.6 L309.4,693.6 L310.8,693.6 L312.1,693.5 L313.3,693.3 L314.6,693.1 L315.8,692.7 L317.0,692.4 L318.2,692.0 L319.4,691.6 L320.6,691.1 L321.8,690.7 L323.0,690.3 L324.2,689.9 L325.4,689.5 L326.6,689.1 L327.7,688.7 L328.9,688.3 L330.0,687.9 L331.2,687.5 L332.4,687.1 L333.6,686.8 L334.9,686.5 L336.2,686.2 L337.8,685.9 L339.6,685.7 L341.3,685.5 L343.2,685.4 L345.0,685.3 L346.9,685.2 L348.8,685.1 L350.6,685.1 L352.5,685.0 L354.3,685.0 L356.1,685.0 L357.9,684.9 L359.6,684.9 L361.4,685.0 L363.2,685.0 L365.0,685.0 L366.7,685.1 L368.5,685.1 L370.3,685.2 L372.1,685.3 L373.9,685.4 L375.8,685.5 L377.6,685.7 L379.5,685.9 L381.3,686.0 L383.2,686.2 L385.1,686.4 L386.9,686.5 L388.8,686.7 L390.6,686.8 L392.4,686.9 L394.3,687.0 L396.2,687.1 L398.1,687.2 L399.9,687.2 L401.8,687.3 L403.6,687.3 L405.4,687.4 L407.1,687.4 L408.7,687.4 L409.9,687.4 L411.0,687.4 L412.1,687.4 L413.1,687.4 L414.1,687.4 L415.1,687.3 L416.2,687.3 L417.4,687.2 L418.6,687.2 L420.0,687.1 L422.8,686.9 L426.1,686.6 L429.7,686.2 L433.6,685.8 L437.6,685.4 L441.6,684.9 L445.6,684.5 L449.4,684.2 L453.0,683.9 L456.2,683.8 L458.3,683.8 L460.2,683.7 L462.1,683.8 L463.9,683.8 L465.6,683.9 L467.4,684.0 L469.1,684.1 L470.8,684.2 L472.5,684.3 L474.3,684.4 L476.1,684.5 L477.9,684.7 L479.7,684.8 L481.5,685.0 L483.2,685.2 L485.0,685.4 L486.9,685.6 L488.7,685.8 L490.6,686.0 L492.5,686.2 L494.8,686.5 L497.1,686.8 L499.5,687.1 L501.9,687.4 L504.4,687.7 L506.8,688.0 L509.3,688.4 L511.7,688.7 L514.2,689.0 L516.6,689.3 L518.9,689.6 L521.2,689.8 L523.5,690.1 L525.8,690.3 L528.1,690.6 L530.4,690.8 L532.7,691.1 L535.1,691.4 L537.5,691.6 L540.0,691.9 L543.0,692.2 L546.0,692.6 L549.1,693.0 L552.3,693.4 L555.5,693.7 L558.7,694.1 L561.9,694.5 L565.1,694.9 L568.3,695.3 L571.4,695.6 L574.4,695.9 L577.3,696.2 L580.3,696.5 L583.2,696.8 L586.1,697.1 L589.1,697.3 L591.9,697.6 L594.8,697.9 L597.6,698.3 L600.4,698.6 L602.9,698.9 L605.5,699.3 L608.1,699.7 L610.6,700.1 L613.1,700.5 L615.6,700.9 L617.9,701.3 L620.2,701.6 L622.4,702.0 L624.5,702.3 L625.9,702.5 L627.1,702.7 L628.3,703.0 L629.4,703.2 L630.6,703.4 L631.7,703.6 L632.8,703.8 L634.0,703.9 L635.2,704.0 L636.6,704.1 L638.6,704.1 L640.8,704.1 L643.1,703.9 L645.6,703.7 L648.0,703.5 L650.5,703.2 L653.0,703.0 L655.4,702.9 L657.7,702.8 L660.0,702.8 L661.9,702.9 L663.8,703.0 L665.6,703.2 L667.4,703.4 L669.2,703.6 L671.0,703.8 L672.8,704.1 L674.5,704.4 L676.3,704.7 L678.1,705.0 L679.9,705.4 L681.7,705.7 L683.5,706.2 L685.3,706.6 L687.2,707.1 L689.0,707.6 L690.8,708.0 L692.6,708.5 L694.4,708.9 L696.2,709.3 L698.0,709.7 L699.8,710.0 L701.5,710.3 L703.3,710.7 L705.1,711.0 L706.9,711.3 L708.7,711.5 L710.5,711.8 L712.4,712.1 L714.3,712.3 L716.6,712.6 L719.0,712.8 L721.4,713.0 L723.9,713.2 L726.4,713.4 L728.9,713.6 L731.4,713.7 L733.8,713.8 L736.2,714.0 L738.5,714.1 L740.4,714.2 L742.2,714.3 L744.0,714.3 L745.8,714.4 L747.6,714.4 L749.3,714.5 L751.1,714.5 L752.9,714.6 L754.7,714.6 L756.6,714.7 L758.8,714.8 L761.1,714.9 L763.5,715.1 L765.9,715.3 L768.3,715.4 L770.7,715.6 L773.0,715.7 L775.4,715.7 L777.7,715.7 L780.0,715.6 L782.1,715.4 L784.1,715.2 L786.1,714.8 L788.2,714.4 L790.2,714.0 L792.1,713.6 L794.1,713.2 L796.0,712.9 L797.8,712.5 L799.6,712.3 L801.0,712.1 L802.3,712.0 L803.6,711.9 L804.9,711.7 L806.2,711.6 L807.4,711.6 L808.7,711.5 L810.0,711.5 L811.3,711.5 L812.7,711.6 L814.5,711.7 L816.4,712.0 L818.3,712.3 L820.3,712.6 L822.3,713.0 L824.3,713.4 L826.3,713.8 L828.3,714.2 L830.3,714.6 L832.3,714.9 L834.3,715.2 L836.3,715.5 L838.3,715.8 L840.3,716.1 L842.3,716.4 L844.3,716.7 L846.3,717.0 L848.2,717.2 L850.1,717.4 L851.9,717.5 L853.3,717.6 L854.7,717.7 L856.0,717.7 L857.3,717.7 L858.6,717.7 L859.9,717.7 L861.2,717.7 L862.4,717.7 L863.7,717.6 L865.0,717.5 L866.3,717.4 L867.7,717.3 L869.0,717.1 L870.4,716.9 L871.8,716.7 L873.1,716.5 L874.4,716.3 L875.7,716.0 L876.9,715.8 L878.1,715.5 L879.0,715.3 L879.8,715.0 L880.6,714.8 L881.4,714.5 L882.1,714.3 L882.9,714.0 L883.6,713.7 L884.4,713.4 L885.1,713.2 L885.9,712.9" fill="none" stroke="#c4553e" stroke-width="2.6" stroke-dasharray="2.7 3.15"/>
<path d="M162.7,801.1 L163.6,801.6 L164.4,802.2 L165.3,802.8 L166.1,803.3 L166.9,803.9 L167.8,804.5 L168.7,805.0 L169.5,805.5 L170.4,806.0 L171.3,806.4 L172.2,806.8 L173.1,807.1 L174.0,807.4 L174.9,807.7 L175.9,807.9 L176.8,808.1 L177.7,808.4 L178.7,808.6 L179.6,808.8 L180.6,809.0 L181.6,809.2 L182.7,809.5 L183.7,809.8 L184.8,810.0 L185.9,810.3 L186.9,810.5 L188.0,810.7 L189.1,810.9 L190.1,811.0 L191.2,811.0 L192.2,811.0 L193.3,810.9 L194.3,810.7 L195.3,810.5 L196.4,810.3 L197.4,810.0 L198.5,809.8 L199.5,809.5 L200.6,809.2 L201.8,809.0 L203.3,808.7 L204.8,808.5 L206.4,808.3 L208.1,808.0 L209.7,807.8 L211.4,807.5 L213.1,807.2 L214.8,806.8 L216.4,806.4 L218.1,805.9 L219.9,805.2 L221.8,804.4 L223.6,803.5 L225.5,802.6 L227.3,801.5 L229.2,800.6 L231.0,799.6 L232.8,798.7 L234.5,798.0 L236.2,797.4 L237.5,797.0 L238.7,796.7 L239.9,796.4 L241.1,796.1 L242.2,795.9 L243.4,795.8 L244.6,795.7 L245.8,795.6 L247.0,795.6 L248.3,795.6 L250.0,795.7 L251.8,796.0 L253.6,796.4 L255.5,796.9 L257.3,797.4 L259.2,798.0 L261.1,798.6 L262.9,799.1 L264.7,799.5 L266.4,799.9 L267.7,800.2 L269.0,800.5 L270.2,800.8 L271.4,801.1 L272.6,801.3 L273.8,801.6 L275.0,801.7 L276.2,801.8 L277.3,801.8 L278.5,801.7 L279.7,801.4 L280.8,801.1 L282.0,800.6 L283.1,800.0 L284.2,799.4 L285.3,798.7 L286.5,798.0 L287.6,797.3 L288.8,796.6 L290.0,796.0 L291.4,795.3 L292.9,794.5 L294.5,793.7 L296.0,792.8 L297.6,792.0 L299.2,791.2 L300.7,790.4 L302.2,789.7 L303.6,789.1 L305.0,788.5 L305.9,788.1 L306.9,787.7 L307.8,787.4 L308.6,787.0 L309.5,786.7 L310.3,786.4 L311.1,786.2 L312.0,786.1 L312.8,786.1 L313.6,786.2 L314.5,786.5 L315.4,787.0 L316.2,787.6 L317.0,788.3 L317.9,789.1 L318.7,790.0 L319.5,790.8 L320.4,791.5 L321.2,792.2 L322.1,792.8 L322.9,793.3 L323.7,793.7 L324.6,794.2 L325.4,794.6 L326.3,795.0 L327.1,795.3 L328.0,795.6 L328.8,795.8 L329.7,795.8 L330.5,795.8 L331.4,795.6 L332.3,795.2 L333.1,794.7 L334.0,794.1 L334.8,793.4 L335.7,792.7 L336.5,791.9 L337.4,791.2 L338.2,790.5 L339.0,789.8 L339.7,789.2 L340.4,788.6 L341.0,787.9 L341.7,787.3 L342.3,786.6 L342.9,786.0 L343.6,785.3 L344.4,784.8 L345.2,784.2 L346.2,783.7 L348.0,783.0 L350.0,782.3 L352.3,781.8 L354.8,781.3 L357.3,780.8 L360.0,780.5 L362.6,780.2 L365.3,779.9 L367.9,779.7 L370.4,779.5 L372.8,779.4 L375.3,779.4 L377.7,779.5 L380.2,779.6 L382.7,779.8 L385.1,779.9 L387.5,780.1 L389.9,780.3 L392.2,780.4 L394.5,780.4 L396.4,780.4 L398.3,780.3 L400.2,780.2 L402.0,780.1 L403.8,780.0 L405.6,779.8 L407.4,779.7 L409.1,779.6 L410.9,779.5 L412.7,779.5 L414.4,779.5 L416.1,779.6 L417.8,779.6 L419.5,779.7 L421.2,779.8 L422.9,779.9 L424.6,780.0 L426.3,780.1 L427.9,780.1 L429.6,780.1 L431.2,780.1 L432.7,780.0 L434.2,779.9 L435.7,779.8 L437.3,779.7 L438.8,779.6 L440.3,779.4 L441.8,779.3 L443.4,779.1 L445.0,779.0 L446.8,778.8 L448.7,778.7 L450.6,778.5 L452.5,778.3 L454.4,778.1 L456.4,777.9 L458.3,777.7 L460.2,777.5 L462.0,777.3 L463.8,777.1 L465.3,776.9 L466.8,776.7 L468.2,776.5 L469.7,776.3 L471.1,776.1 L472.5,775.9 L473.9,775.7 L475.3,775.6 L476.8,775.4 L478.3,775.3 L480.0,775.2 L481.8,775.1 L483.6,775.1 L485.4,775.1 L487.2,775.1 L489.0,775.1 L490.9,775.1 L492.7,775.2 L494.6,775.2 L496.4,775.3 L498.2,775.4 L500.1,775.5 L501.9,775.6 L503.7,775.7 L505.5,775.8 L507.4,775.9 L509.2,776.1 L511.1,776.2 L513.0,776.4 L515.0,776.5 L517.3,776.7 L519.7,776.9 L522.1,777.0 L524.6,777.2 L527.1,777.4 L529.6,777.7 L532.2,777.9 L534.8,778.1 L537.4,778.3 L540.0,778.5 L543.0,778.8 L546.0,779.0 L549.1,779.3 L552.2,779.6 L555.3,779.9 L558.5,780.2 L561.7,780.5 L564.9,780.7 L568.2,780.9 L571.5,781.0 L575.3,781.1 L579.2,781.1 L583.2,781.0 L587.2,780.9 L591.3,780.8 L595.3,780.6 L599.3,780.5 L603.1,780.3 L606.9,780.2 L610.4,780.1 L613.0,780.0 L615.6,780.0 L618.1,779.9 L620.5,779.8 L622.8,779.8 L625.1,779.7 L627.4,779.7 L629.8,779.6 L632.1,779.6 L634.5,779.5 L636.9,779.4 L639.4,779.3 L641.9,779.2 L644.4,779.1 L646.9,779.1 L649.4,779.0 L651.8,778.9 L654.2,778.9 L656.5,778.9 L658.7,779.0 L660.4,779.1 L662.1,779.2 L663.7,779.4 L665.3,779.5 L666.8,779.7 L668.4,779.9 L669.9,780.1 L671.3,780.4 L672.8,780.6 L674.2,780.8 L675.4,781.0 L676.5,781.2 L677.5,781.5 L678.5,781.7 L679.5,781.9 L680.6,782.2 L681.6,782.4 L682.8,782.6 L684.0,782.8 L685.3,783.0 L687.7,783.2 L690.2,783.4 L692.9,783.6 L695.8,783.7 L698.8,783.8 L702.0,783.8 L705.2,783.9 L708.6,783.9 L712.0,784.0 L715.4,784.0 L720.3,784.0 L725.5,784.0 L730.9,784.0 L736.6,784.0 L742.4,783.9 L748.2,783.8 L754.0,783.7 L759.8,783.6 L765.5,783.6 L771.0,783.5 L776.0,783.5 L781.0,783.4 L785.9,783.4 L790.8,783.3 L795.7,783.3 L800.5,783.2 L805.3,783.2 L810.2,783.1 L815.1,783.0 L820.0,783.0 L825.0,782.9 L830.0,782.9 L835.1,782.8 L840.1,782.8 L845.2,782.7 L850.2,782.7 L855.3,782.6 L860.3,782.6 L865.4,782.5 L870.4,782.5" fill="none" stroke="#e6a434" stroke-width="2.8" stroke-linejoin="round"/>
<path d="M89.6,765.9 L90.5,766.9 L91.3,767.9 L92.2,768.9 L93.1,769.8 L93.9,770.8 L94.8,771.8 L95.7,772.8 L96.5,773.8 L97.4,774.8 L98.3,775.8 L99.2,776.9 L100.1,777.9 L101.1,779.0 L102.0,780.1 L102.9,781.1 L103.9,782.2 L104.8,783.3 L105.7,784.4 L106.7,785.4 L107.6,786.5 L108.5,787.6 L109.5,788.7 L110.4,789.8 L111.3,790.9 L112.3,792.0 L113.2,793.1 L114.1,794.2 L115.0,795.2 L116.0,796.2 L116.9,797.1 L117.7,797.9 L118.4,798.6 L119.2,799.4 L119.9,800.1 L120.7,800.8 L121.5,801.5 L122.3,802.1 L123.1,802.7 L123.9,803.2 L124.8,803.7 L125.8,804.1 L126.8,804.4 L127.8,804.7 L128.9,804.9 L130.0,805.1 L131.1,805.2 L132.2,805.3 L133.3,805.5 L134.4,805.6 L135.4,805.7 L136.3,805.8 L137.3,805.9 L138.2,805.9 L139.1,806.0 L140.0,806.0 L140.9,806.1 L141.8,806.1 L142.7,806.2 L143.7,806.3 L144.7,806.4 L146.0,806.6 L147.4,806.9 L148.9,807.2 L150.3,807.6 L151.8,808.0 L153.4,808.3 L154.9,808.7 L156.4,809.1 L157.8,809.4 L159.3,809.7 L160.7,810.0 L162.0,810.2 L163.3,810.5 L164.7,810.8 L166.0,811.0 L167.3,811.2 L168.6,811.4 L169.9,811.6 L171.3,811.7 L172.6,811.7 L173.9,811.7 L175.3,811.6 L176.6,811.5 L177.9,811.3 L179.3,811.1 L180.6,810.8 L181.9,810.6 L183.3,810.3 L184.6,810.0 L185.9,809.7 L187.2,809.4 L188.6,809.0 L189.9,808.6 L191.2,808.2 L192.6,807.8 L193.9,807.4 L195.2,807.0 L196.6,806.5 L197.9,806.1 L199.2,805.7 L200.5,805.3 L201.8,805.0 L203.0,804.6 L204.3,804.3 L205.6,803.9 L206.8,803.5 L208.1,803.1 L209.4,802.7 L210.7,802.2 L212.1,801.7 L213.8,801.0 L215.6,800.1 L217.3,799.3 L219.1,798.3 L221.0,797.3 L222.8,796.3 L224.7,795.3 L226.5,794.4 L228.4,793.5 L230.2,792.6 L232.0,791.8 L233.7,790.9 L235.5,790.1 L237.3,789.3 L239.0,788.5 L240.8,787.7 L242.6,787.0 L244.5,786.4 L246.4,785.8 L248.3,785.4 L250.5,785.1 L252.9,784.9 L255.3,784.9 L257.7,784.9 L260.1,785.0 L262.6,785.2 L265.1,785.3 L267.6,785.4 L270.1,785.5 L272.5,785.4 L274.9,785.2 L277.4,785.1 L280.0,784.8 L282.5,784.6 L285.0,784.3 L287.5,784.0 L289.9,783.7 L292.2,783.4 L294.5,783.1 L296.6,782.9 L298.1,782.7 L299.5,782.6 L300.8,782.4 L302.1,782.2 L303.3,782.0 L304.5,781.9 L305.8,781.7 L307.1,781.6 L308.5,781.4 L310.0,781.3 L312.1,781.1 L314.4,781.0 L316.7,780.9 L319.2,780.7 L321.7,780.6 L324.2,780.5 L326.7,780.4 L329.2,780.3 L331.7,780.2 L334.2,780.1 L336.6,780.0 L339.1,779.9 L341.6,779.8 L344.1,779.6 L346.6,779.5 L349.1,779.4 L351.5,779.3 L353.9,779.2 L356.1,779.0 L358.3,778.9 L359.9,778.8 L361.4,778.7 L362.8,778.5 L364.1,778.4 L365.5,778.2 L366.8,778.1 L368.2,778.0 L369.7,777.8 L371.2,777.8 L372.8,777.7 L375.2,777.7 L377.8,777.7 L380.5,777.7 L383.3,777.8 L386.1,777.9 L389.0,778.0 L391.9,778.1 L394.7,778.3 L397.4,778.4 L400.0,778.5 L402.1,778.6 L404.2,778.7 L406.2,778.8 L408.2,778.9 L410.1,779.0 L412.1,779.1 L414.0,779.2 L416.0,779.3 L418.0,779.4 L420.0,779.5 L422.2,779.6 L424.3,779.6 L426.5,779.7 L428.7,779.7 L430.9,779.8 L433.1,779.8 L435.4,779.9 L437.6,780.0 L439.8,780.0 L442.1,780.1 L444.4,780.2 L446.8,780.4 L449.1,780.5 L451.4,780.7 L453.8,780.9 L456.2,781.0 L458.6,781.2 L461.1,781.3 L463.6,781.3 L466.2,781.3 L469.6,781.2 L473.1,781.0 L476.8,780.7 L480.5,780.4 L484.4,780.0 L488.2,779.6 L491.9,779.2 L495.6,778.9 L499.1,778.6 L502.5,778.3 L505.1,778.1 L507.6,777.9 L510.1,777.8 L512.5,777.6 L514.9,777.4 L517.2,777.3 L519.6,777.2 L521.9,777.1 L524.2,777.1 L526.6,777.1 L529.0,777.2 L531.3,777.3 L533.6,777.4 L536.0,777.6 L538.3,777.8 L540.6,778.1 L543.0,778.3 L545.3,778.5 L547.6,778.8 L550.0,779.0 L552.4,779.2 L554.8,779.5 L557.2,779.8 L559.7,780.1 L562.1,780.3 L564.5,780.6 L566.9,780.9 L569.4,781.1 L571.8,781.2 L574.2,781.3 L576.6,781.3 L579.2,781.3 L581.7,781.3 L584.2,781.2 L586.8,781.1 L589.3,780.9 L591.7,780.8 L594.0,780.6 L596.2,780.3 L598.3,780.1 L599.7,779.9 L600.9,779.7 L602.0,779.4 L603.1,779.2 L604.2,778.9 L605.3,778.6 L606.4,778.4 L607.6,778.1 L608.9,777.9 L610.4,777.7 L613.3,777.4 L616.7,777.2 L620.4,777.1 L624.4,776.9 L628.5,776.9 L632.6,776.8 L636.5,776.7 L640.3,776.7 L643.7,776.6 L646.6,776.5 L648.1,776.4 L649.4,776.3 L650.7,776.2 L651.9,776.1 L653.1,776.0 L654.2,775.9 L655.3,775.8 L656.4,775.8 L657.5,775.8 L658.7,775.9 L659.8,776.0 L660.9,776.2 L662.0,776.4 L663.0,776.6 L664.1,776.9 L665.1,777.2 L666.2,777.5 L667.3,777.8 L668.4,778.0 L669.6,778.3 L671.0,778.6 L672.3,778.9 L673.7,779.3 L675.1,779.6 L676.5,780.0 L678.0,780.3 L679.6,780.6 L681.3,780.9 L683.2,781.2 L685.3,781.4 L691.2,781.8 L698.6,781.9 L707.1,782.0 L716.4,781.8 L726.2,781.7 L736.1,781.4 L745.9,781.2 L755.2,781.0 L763.6,781.0 L771.0,781.0 L775.2,781.1 L779.1,781.3 L782.9,781.5 L786.4,781.7 L789.9,781.9 L793.2,782.1 L796.5,782.2 L799.7,782.4 L803.0,782.5 L806.2,782.5 L808.9,782.5 L811.6,782.4 L814.2,782.3 L816.7,782.1 L819.2,782.0 L821.7,781.8 L824.3,781.6 L826.9,781.5 L829.5,781.3 L832.3,781.2 L835.7,781.1 L839.2,781.0 L842.8,780.9 L846.5,780.9 L850.2,780.8 L854.0,780.7 L857.7,780.7 L861.5,780.6 L865.2,780.6 L868.9,780.5" fill="none" stroke="#1a881a" stroke-width="2.8" stroke-linejoin="round"/>
<path d="M130.8,750.6 L132.2,751.3 L133.6,751.9 L135.0,752.6 L136.5,753.2 L137.9,753.8 L139.3,754.5 L140.7,755.2 L142.1,755.8 L143.4,756.6 L144.7,757.3 L145.9,758.0 L147.0,758.8 L148.1,759.5 L149.2,760.3 L150.3,761.1 L151.3,761.9 L152.3,762.7 L153.4,763.6 L154.4,764.4 L155.4,765.2 L156.4,766.0 L157.3,766.8 L158.2,767.5 L159.1,768.3 L160.0,769.1 L160.9,769.9 L161.8,770.7 L162.7,771.6 L163.7,772.4 L164.6,773.2 L165.6,774.1 L166.7,775.1 L167.8,776.1 L168.9,777.1 L169.9,778.2 L171.0,779.2 L172.1,780.1 L173.2,781.0 L174.3,781.8 L175.3,782.5 L176.1,783.0 L176.9,783.5 L177.7,783.9 L178.5,784.4 L179.3,784.8 L180.1,785.1 L180.8,785.4 L181.6,785.6 L182.4,785.8 L183.2,785.8 L184.0,785.7 L184.8,785.6 L185.6,785.4 L186.4,785.1 L187.2,784.7 L188.0,784.3 L188.8,783.9 L189.6,783.4 L190.4,782.9 L191.2,782.5 L192.0,782.0 L192.8,781.4 L193.5,780.8 L194.3,780.1 L195.0,779.4 L195.8,778.7 L196.6,778.1 L197.4,777.5 L198.3,777.0 L199.2,776.5 L200.3,776.1 L201.5,775.7 L202.6,775.5 L203.9,775.2 L205.1,775.0 L206.5,774.9 L207.8,774.8 L209.2,774.7 L210.6,774.6 L212.1,774.5 L214.2,774.4 L216.5,774.3 L218.9,774.3 L221.4,774.3 L223.9,774.4 L226.5,774.5 L229.0,774.6 L231.5,774.7 L233.9,774.9 L236.2,775.1 L238.1,775.3 L240.0,775.6 L241.8,775.8 L243.6,776.2 L245.4,776.5 L247.2,776.8 L248.9,777.2 L250.7,777.5 L252.5,777.8 L254.3,778.1 L256.1,778.4 L257.9,778.7 L259.8,779.0 L261.6,779.3 L263.4,779.6 L265.2,779.9 L267.0,780.2 L268.9,780.3 L270.7,780.5 L272.5,780.5 L274.3,780.5 L276.1,780.3 L277.9,780.2 L279.7,779.9 L281.6,779.6 L283.4,779.3 L285.2,779.0 L287.0,778.7 L288.8,778.4 L290.6,778.1 L292.4,777.8 L294.2,777.5 L295.9,777.2 L297.7,776.8 L299.5,776.5 L301.2,776.1 L303.0,775.8 L304.9,775.5 L306.8,775.3 L308.7,775.1 L311.0,774.9 L313.4,774.8 L315.8,774.8 L318.3,774.8 L320.8,774.8 L323.3,774.9 L325.9,774.9 L328.6,775.0 L331.3,775.0 L334.0,775.0 L337.4,775.0 L340.9,775.0 L344.6,775.0 L348.3,775.0 L352.0,775.0 L355.8,775.0 L359.5,775.0 L363.3,775.0 L366.9,775.0 L370.4,775.0 L373.5,775.0 L376.5,775.0 L379.5,775.0 L382.5,774.9 L385.4,774.9 L388.3,774.9 L391.2,774.9 L394.1,774.8 L397.1,774.8 L400.0,774.8 L403.0,774.8 L406.0,774.7 L409.1,774.7 L412.2,774.7 L415.2,774.6 L418.3,774.6 L421.2,774.6 L424.1,774.6 L426.9,774.6 L429.6,774.7 L431.6,774.8 L433.6,774.8 L435.5,774.9 L437.3,775.0 L439.1,775.0 L440.9,775.2 L442.7,775.3 L444.5,775.5 L446.3,775.7 L448.1,775.9 L449.9,776.2 L451.7,776.6 L453.6,777.1 L455.4,777.6 L457.2,778.2 L459.0,778.7 L460.8,779.1 L462.6,779.6 L464.4,779.9 L466.2,780.1 L468.0,780.2 L469.8,780.2 L471.6,780.2 L473.4,780.1 L475.2,780.0 L477.1,779.8 L478.9,779.6 L480.7,779.4 L482.5,779.1 L484.3,778.9 L486.1,778.6 L487.9,778.3 L489.7,777.9 L491.5,777.5 L493.2,777.1 L495.0,776.6 L496.8,776.2 L498.7,775.9 L500.6,775.6 L502.5,775.3 L504.8,775.1 L507.1,774.9 L509.5,774.8 L511.9,774.7 L514.4,774.6 L516.8,774.6 L519.3,774.6 L521.7,774.6 L524.2,774.6 L526.6,774.7 L529.0,774.8 L531.3,774.9 L533.7,775.1 L536.0,775.3 L538.4,775.5 L540.7,775.7 L543.1,776.0 L545.4,776.3 L547.7,776.5 L550.0,776.8 L552.2,777.1 L554.4,777.5 L556.5,777.9 L558.7,778.3 L560.8,778.8 L563.0,779.2 L565.1,779.5 L567.2,779.8 L569.4,780.0 L571.5,780.1 L573.6,780.0 L575.7,779.9 L577.8,779.6 L579.9,779.3 L582.0,779.0 L584.1,778.6 L586.2,778.2 L588.2,777.8 L590.3,777.4 L592.3,777.1 L594.1,776.8 L595.9,776.6 L597.7,776.3 L599.4,776.0 L601.1,775.7 L602.9,775.5 L604.7,775.3 L606.5,775.0 L608.4,774.9 L610.4,774.7 L613.1,774.6 L616.1,774.6 L619.1,774.6 L622.3,774.7 L625.5,774.8 L628.7,774.9 L631.9,775.0 L634.9,775.0 L637.9,774.9 L640.6,774.7 L642.6,774.4 L644.6,774.1 L646.5,773.7 L648.4,773.3 L650.2,772.8 L652.0,772.4 L653.7,772.0 L655.4,771.6 L657.1,771.3 L658.7,771.1 L659.9,771.0 L661.0,770.9 L662.1,770.7 L663.2,770.7 L664.2,770.6 L665.3,770.6 L666.3,770.6 L667.4,770.7 L668.5,770.9 L669.6,771.1 L671.1,771.6 L672.7,772.2 L674.3,773.0 L676.0,774.0 L677.7,774.9 L679.3,775.9 L680.9,776.9 L682.5,777.8 L683.9,778.5 L685.3,779.1 L686.1,779.4 L686.9,779.7 L687.6,779.9 L688.3,780.1 L688.9,780.3 L689.6,780.5 L690.3,780.6 L691.1,780.8 L691.9,780.9 L692.8,781.0 L694.5,781.1 L696.4,781.2 L698.4,781.2 L700.5,781.1 L702.7,781.0 L705.1,780.9 L707.5,780.7 L710.0,780.6 L712.7,780.5 L715.4,780.4 L719.9,780.3 L724.9,780.2 L730.3,780.1 L735.9,780.1 L741.7,780.0 L747.5,779.9 L753.5,779.9 L759.3,779.9 L765.0,779.9 L770.5,779.9 L775.6,780.0 L780.7,780.1 L785.8,780.2 L790.9,780.3 L796.0,780.5 L800.9,780.7 L805.8,780.8 L810.5,781.0 L814.9,781.1 L819.2,781.2 L822.2,781.3 L825.0,781.3 L827.8,781.3 L830.4,781.4 L833.0,781.4 L835.6,781.4 L838.1,781.4 L840.5,781.5 L843.0,781.5 L845.4,781.6 L847.5,781.7 L849.7,781.8 L851.8,781.9 L853.9,782.0 L856.0,782.2 L858.0,782.3 L860.0,782.4 L861.8,782.5 L863.5,782.5 L865.0,782.5 L865.8,782.5 L866.5,782.5 L867.2,782.5 L867.8,782.5 L868.4,782.5 L869.0,782.5 L869.6,782.4 L870.2,782.3 L870.9,782.1 L871.6,781.9 L872.8,781.4 L874.0,780.7 L875.3,779.9 L876.7,779.0 L878.0,778.0 L879.4,777.0 L880.8,775.9 L882.1,774.8 L883.4,773.7 L884.6,772.7 L885.7,771.7 L886.8,770.7 L887.9,769.7 L888.9,768.6 L890.0,767.6 L891.0,766.5 L892.0,765.5 L893.0,764.4 L894.1,763.3 L895.1,762.2 L896.2,761.1 L897.3,759.9 L898.4,758.8 L899.5,757.6 L900.5,756.4 L901.6,755.3 L902.7,754.1 L903.8,752.9 L904.9,751.8 L906.0,750.6" fill="none" stroke="#205ca2" stroke-width="2.8" stroke-linejoin="round"/>
<path d="M216.9,771.5 L218.0,773.6 L219.1,775.8 L220.1,777.9 L221.2,780.1 L222.3,782.2 L223.4,784.4 L224.5,786.5 L225.6,788.6 L226.7,790.6 L227.8,792.6 L228.8,794.4 L229.9,796.2 L230.9,798.0 L232.0,799.7 L233.0,801.4 L234.1,803.1 L235.2,804.8 L236.3,806.4 L237.4,808.0 L238.6,809.5 L239.7,811.0 L240.9,812.5 L242.1,814.1 L243.3,815.6 L244.5,817.1 L245.7,818.5 L246.9,819.8 L248.2,820.8 L249.4,821.6 L250.7,822.2 L251.6,822.4 L252.6,822.6 L253.6,822.6 L254.5,822.5 L255.5,822.4 L256.5,822.1 L257.5,821.8 L258.4,821.4 L259.4,820.9 L260.4,820.4 L261.8,819.4 L263.3,818.2 L264.7,816.7 L266.1,815.1 L267.5,813.3 L269.0,811.5 L270.4,809.7 L271.9,807.9 L273.4,806.2 L274.9,804.7 L276.4,803.3 L277.9,802.0 L279.4,800.7 L280.9,799.4 L282.5,798.2 L284.1,796.9 L285.6,795.8 L287.3,794.7 L288.9,793.6 L290.6,792.6 L292.3,791.7 L294.0,790.8 L295.7,789.9 L297.5,789.1 L299.2,788.3 L301.1,787.6 L302.9,786.9 L304.8,786.4 L306.7,785.8 L308.7,785.4 L311.1,785.0 L313.6,784.8 L316.3,784.7 L319.0,784.7 L321.7,784.8 L324.4,784.9 L327.1,785.0 L329.6,785.1 L332.0,785.1 L334.2,785.0 L335.6,784.9 L336.8,784.8 L338.0,784.7 L339.1,784.6 L340.2,784.5 L341.3,784.4 L342.4,784.2 L343.6,784.1 L344.9,783.9 L346.2,783.7 L348.3,783.4 L350.5,782.9 L352.8,782.5 L355.3,782.0 L357.8,781.4 L360.3,780.9 L362.9,780.3 L365.4,779.8 L367.9,779.3 L370.4,778.9 L372.8,778.5 L375.3,778.1 L377.7,777.7 L380.2,777.3 L382.7,776.9 L385.1,776.5 L387.5,776.2 L389.9,775.9 L392.2,775.7 L394.5,775.5 L396.4,775.4 L398.3,775.3 L400.2,775.2 L402.0,775.1 L403.8,775.0 L405.6,775.0 L407.4,775.1 L409.1,775.2 L410.9,775.3 L412.7,775.5 L414.4,775.8 L416.2,776.1 L417.8,776.6 L419.5,777.1 L421.2,777.6 L422.9,778.1 L424.6,778.7 L426.4,779.2 L428.1,779.7 L430.0,780.1 L432.3,780.5 L434.6,781.0 L437.1,781.3 L439.5,781.7 L442.1,782.1 L444.6,782.4 L447.1,782.7 L449.5,783.1 L451.9,783.4 L454.2,783.7 L456.1,784.0 L458.0,784.3 L459.8,784.6 L461.6,784.9 L463.4,785.2 L465.2,785.5 L466.9,785.7 L468.7,785.9 L470.5,786.1 L472.3,786.2 L474.1,786.2 L475.9,786.2 L477.7,786.2 L479.5,786.0 L481.4,785.9 L483.2,785.7 L485.0,785.6 L486.8,785.4 L488.6,785.2 L490.4,785.0 L492.2,784.8 L494.0,784.6 L495.8,784.3 L497.6,784.1 L499.5,783.8 L501.3,783.6 L503.1,783.3 L504.9,783.0 L506.7,782.8 L508.5,782.5 L510.3,782.2 L512.1,782.0 L513.9,781.7 L515.6,781.4 L517.4,781.1 L519.2,780.9 L521.0,780.6 L522.8,780.4 L524.7,780.2 L526.6,780.1 L528.8,780.0 L531.1,779.9 L533.4,779.9 L535.8,779.9 L538.2,780.0 L540.6,780.1 L543.0,780.2 L545.3,780.3 L547.7,780.5 L550.0,780.7 L552.2,780.9 L554.4,781.3 L556.5,781.6 L558.7,782.0 L560.8,782.4 L563.0,782.8 L565.1,783.2 L567.2,783.6 L569.4,784.0 L571.5,784.3 L573.6,784.6 L575.7,784.8 L577.8,785.1 L579.9,785.3 L582.0,785.6 L584.1,785.8 L586.2,785.9 L588.2,786.1 L590.3,786.2 L592.3,786.2 L594.1,786.2 L596.0,786.2 L597.7,786.1 L599.5,786.1 L601.3,786.0 L603.0,785.8 L604.8,785.7 L606.6,785.5 L608.5,785.2 L610.4,785.0 L612.7,784.6 L615.1,784.2 L617.5,783.7 L620.0,783.1 L622.4,782.6 L624.9,782.0 L627.4,781.4 L629.8,780.9 L632.2,780.5 L634.5,780.1 L636.4,779.8 L638.3,779.6 L640.2,779.4 L642.0,779.2 L643.8,779.1 L645.6,779.0 L647.4,778.9 L649.1,778.9 L650.9,778.9 L652.7,778.9 L654.4,779.0 L656.1,779.1 L657.8,779.3 L659.5,779.5 L661.2,779.8 L662.9,780.1 L664.6,780.4 L666.3,780.7 L667.9,781.0 L669.6,781.3 L671.2,781.6 L672.7,782.0 L674.2,782.4 L675.7,782.9 L677.2,783.3 L678.7,783.8 L680.2,784.2 L681.8,784.6 L683.5,784.9 L685.3,785.2 L687.8,785.5 L690.5,785.7 L693.2,785.8 L696.0,785.9 L698.9,785.9 L701.9,785.9 L705.1,785.9 L708.4,785.9 L711.8,785.9 L715.4,785.9 L721.5,786.0 L728.1,786.0 L735.3,786.0 L742.8,786.0 L750.5,786.0 L758.4,786.0 L766.4,785.9 L774.2,785.9 L782.0,785.9 L789.4,785.9 L796.7,785.9 L804.2,786.0 L812.0,786.1 L819.8,786.2 L827.5,786.2 L834.9,786.3 L841.9,786.3 L848.2,786.2 L853.8,786.1 L858.5,785.8 L860.2,785.7 L861.8,785.5 L863.1,785.3 L864.4,785.1 L865.6,784.9 L866.7,784.7 L867.9,784.5 L869.0,784.3 L870.3,784.0 L871.6,783.8 L873.3,783.5 L875.0,783.2 L876.7,783.0 L878.5,782.7 L880.2,782.3 L882.0,782.0 L883.8,781.7 L885.6,781.4 L887.4,781.1 L889.2,780.8" fill="none" stroke="#d64a26" stroke-width="2.8" stroke-linejoin="round"/>
</g>
<defs><clipPath id="clipTop"><rect x="89.5" y="49.5" width="817.0" height="592.0"/></clipPath><clipPath id="clipBot"><rect x="89.5" y="653.5" width="817.0" height="255.0"/></clipPath></defs>
<rect x="421.3" y="505.3" width="485.2" height="135.7" fill="#ffffff" stroke="#2a2a2a" stroke-width="1"/>
<line x1="430" y1="521.2" x2="498" y2="521.2" stroke="#c9502c" stroke-width="3"/>
<text x="517.6" y="517.1" font-size="14.5" text-anchor="start" font-weight="normal" letter-spacing="0.55" fill="#111111" stroke="#111111" stroke-width="0.3" >02-22-16 datalog 226hp.cs Gear:3 Wt:3340 Tire:25.09</text>
<text x="517.6" y="533.6" font-size="14.5" text-anchor="start" font-weight="normal" letter-spacing="0.55" fill="#111111" stroke="#111111" stroke-width="0.3" >(226hp@5754rpm) (262lbft@4155rpm) Smoothing:3</text>
<line x1="430" y1="555.4" x2="498" y2="555.4" stroke="#20609e" stroke-width="3"/>
<text x="517.6" y="551.3" font-size="14.5" text-anchor="start" font-weight="normal" letter-spacing="0.55" fill="#111111" stroke="#111111" stroke-width="0.3" >02-28-16 datalog 249hp.cs Gear:3 Wt:3340 Tire:25.09</text>
<text x="517.6" y="567.8" font-size="14.5" text-anchor="start" font-weight="normal" letter-spacing="0.55" fill="#111111" stroke="#111111" stroke-width="0.3" >(249hp@4994rpm) (288lbft@4176rpm) Smoothing:3</text>
<line x1="430" y1="589.6" x2="498" y2="589.6" stroke="#188a18" stroke-width="3"/>
<text x="517.6" y="585.5" font-size="14.5" text-anchor="start" font-weight="normal" letter-spacing="0.55" fill="#111111" stroke="#111111" stroke-width="0.3" >03-12-16 datalog 263hp.cs Gear:3 Wt:3340 Tire:25.09</text>
<text x="517.6" y="602.0" font-size="14.5" text-anchor="start" font-weight="normal" letter-spacing="0.55" fill="#111111" stroke="#111111" stroke-width="0.3" >(263hp@4818rpm) (313lbft@4117rpm) Smoothing:3</text>
<line x1="430" y1="623.8" x2="498" y2="623.8" stroke="#e0a838" stroke-width="3"/>
<text x="517.6" y="619.7" font-size="14.5" text-anchor="start" font-weight="normal" letter-spacing="0.55" fill="#111111" stroke="#111111" stroke-width="0.3" >03-14-16 datalog 274hp.cs Gear:4 Wt:3340 Tire:25.09</text>
<text x="517.6" y="636.2" font-size="14.5" text-anchor="start" font-weight="normal" letter-spacing="0.55" fill="#111111" stroke="#111111" stroke-width="0.3" >(274hp@4886rpm) (312lbft@4276rpm) Smoothing:3</text></svg></body></html>
